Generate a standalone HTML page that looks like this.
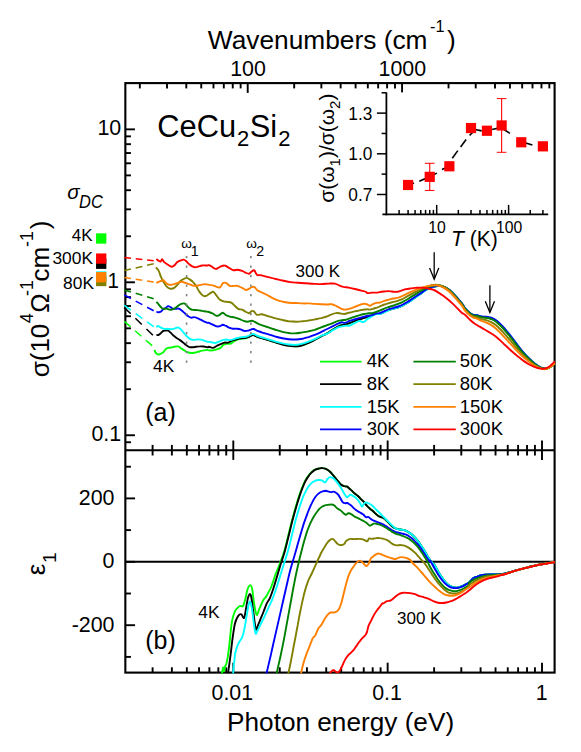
<!DOCTYPE html>
<html><head><meta charset="utf-8"><title>CeCu2Si2 optical conductivity</title>
<style>html,body{margin:0;padding:0;background:#fff;}body{width:581px;height:752px;position:relative;overflow:hidden;font-family:"Liberation Sans",sans-serif;}</style></head>
<body>
<svg width="581" height="752" viewBox="0 0 581 752" style="display:block;position:absolute;left:0;top:0" font-family="'Liberation Sans', sans-serif" fill="#000">
<defs><clipPath id="ca"><rect x="124.3" y="83.1" width="431.15" height="367.1"/></clipPath><clipPath id="cb"><rect x="124.3" y="450.2" width="431.15" height="223.40000000000003"/></clipPath></defs>
<rect x="0" y="0" width="581" height="752" fill="#fff"/>
<rect x="125.35" y="83.1" width="429.25" height="589.5" fill="none" stroke="#000" stroke-width="2.1"/>
<line x1="125.35" y1="450.20" x2="554.60" y2="450.20" stroke="#000" stroke-width="2.1" />
<line x1="152.59" y1="444.90" x2="152.59" y2="455.50" stroke="#000" stroke-width="1.9" />
<line x1="171.88" y1="444.90" x2="171.88" y2="455.50" stroke="#000" stroke-width="1.9" />
<line x1="186.84" y1="444.90" x2="186.84" y2="455.50" stroke="#000" stroke-width="1.9" />
<line x1="199.06" y1="444.90" x2="199.06" y2="455.50" stroke="#000" stroke-width="1.9" />
<line x1="209.39" y1="444.90" x2="209.39" y2="455.50" stroke="#000" stroke-width="1.9" />
<line x1="218.34" y1="444.90" x2="218.34" y2="455.50" stroke="#000" stroke-width="1.9" />
<line x1="226.24" y1="444.90" x2="226.24" y2="455.50" stroke="#000" stroke-width="1.9" />
<line x1="233.30" y1="440.50" x2="233.30" y2="459.90" stroke="#000" stroke-width="1.9" />
<line x1="279.76" y1="444.90" x2="279.76" y2="455.50" stroke="#000" stroke-width="1.9" />
<line x1="306.94" y1="444.90" x2="306.94" y2="455.50" stroke="#000" stroke-width="1.9" />
<line x1="326.23" y1="444.90" x2="326.23" y2="455.50" stroke="#000" stroke-width="1.9" />
<line x1="341.19" y1="444.90" x2="341.19" y2="455.50" stroke="#000" stroke-width="1.9" />
<line x1="353.41" y1="444.90" x2="353.41" y2="455.50" stroke="#000" stroke-width="1.9" />
<line x1="363.74" y1="444.90" x2="363.74" y2="455.50" stroke="#000" stroke-width="1.9" />
<line x1="372.69" y1="444.90" x2="372.69" y2="455.50" stroke="#000" stroke-width="1.9" />
<line x1="380.59" y1="444.90" x2="380.59" y2="455.50" stroke="#000" stroke-width="1.9" />
<line x1="387.65" y1="440.50" x2="387.65" y2="459.90" stroke="#000" stroke-width="1.9" />
<line x1="434.11" y1="444.90" x2="434.11" y2="455.50" stroke="#000" stroke-width="1.9" />
<line x1="461.29" y1="444.90" x2="461.29" y2="455.50" stroke="#000" stroke-width="1.9" />
<line x1="480.58" y1="444.90" x2="480.58" y2="455.50" stroke="#000" stroke-width="1.9" />
<line x1="495.54" y1="444.90" x2="495.54" y2="455.50" stroke="#000" stroke-width="1.9" />
<line x1="507.76" y1="444.90" x2="507.76" y2="455.50" stroke="#000" stroke-width="1.9" />
<line x1="518.09" y1="444.90" x2="518.09" y2="455.50" stroke="#000" stroke-width="1.9" />
<line x1="527.04" y1="444.90" x2="527.04" y2="455.50" stroke="#000" stroke-width="1.9" />
<line x1="534.94" y1="444.90" x2="534.94" y2="455.50" stroke="#000" stroke-width="1.9" />
<line x1="542.00" y1="440.50" x2="542.00" y2="459.90" stroke="#000" stroke-width="1.9" />
<line x1="139.83" y1="83.10" x2="139.83" y2="88.40" stroke="#000" stroke-width="1.9" />
<line x1="167.01" y1="83.10" x2="167.01" y2="88.40" stroke="#000" stroke-width="1.9" />
<line x1="186.29" y1="83.10" x2="186.29" y2="88.40" stroke="#000" stroke-width="1.9" />
<line x1="201.25" y1="83.10" x2="201.25" y2="88.40" stroke="#000" stroke-width="1.9" />
<line x1="213.47" y1="83.10" x2="213.47" y2="88.40" stroke="#000" stroke-width="1.9" />
<line x1="223.80" y1="83.10" x2="223.80" y2="88.40" stroke="#000" stroke-width="1.9" />
<line x1="232.75" y1="83.10" x2="232.75" y2="88.40" stroke="#000" stroke-width="1.9" />
<line x1="240.65" y1="83.10" x2="240.65" y2="88.40" stroke="#000" stroke-width="1.9" />
<line x1="247.71" y1="83.10" x2="247.71" y2="92.90" stroke="#000" stroke-width="1.9" />
<line x1="294.18" y1="83.10" x2="294.18" y2="88.40" stroke="#000" stroke-width="1.9" />
<line x1="321.36" y1="83.10" x2="321.36" y2="88.40" stroke="#000" stroke-width="1.9" />
<line x1="340.64" y1="83.10" x2="340.64" y2="88.40" stroke="#000" stroke-width="1.9" />
<line x1="355.60" y1="83.10" x2="355.60" y2="88.40" stroke="#000" stroke-width="1.9" />
<line x1="367.82" y1="83.10" x2="367.82" y2="88.40" stroke="#000" stroke-width="1.9" />
<line x1="378.15" y1="83.10" x2="378.15" y2="88.40" stroke="#000" stroke-width="1.9" />
<line x1="387.10" y1="83.10" x2="387.10" y2="88.40" stroke="#000" stroke-width="1.9" />
<line x1="395.00" y1="83.10" x2="395.00" y2="88.40" stroke="#000" stroke-width="1.9" />
<line x1="402.06" y1="83.10" x2="402.06" y2="92.90" stroke="#000" stroke-width="1.9" />
<line x1="448.53" y1="83.10" x2="448.53" y2="88.40" stroke="#000" stroke-width="1.9" />
<line x1="475.71" y1="83.10" x2="475.71" y2="88.40" stroke="#000" stroke-width="1.9" />
<line x1="494.99" y1="83.10" x2="494.99" y2="88.40" stroke="#000" stroke-width="1.9" />
<line x1="509.95" y1="83.10" x2="509.95" y2="88.40" stroke="#000" stroke-width="1.9" />
<line x1="522.17" y1="83.10" x2="522.17" y2="88.40" stroke="#000" stroke-width="1.9" />
<line x1="532.50" y1="83.10" x2="532.50" y2="88.40" stroke="#000" stroke-width="1.9" />
<line x1="541.45" y1="83.10" x2="541.45" y2="88.40" stroke="#000" stroke-width="1.9" />
<line x1="549.35" y1="83.10" x2="549.35" y2="88.40" stroke="#000" stroke-width="1.9" />
<line x1="125.35" y1="442.25" x2="130.95" y2="442.25" stroke="#000" stroke-width="1.9" />
<line x1="125.35" y1="435.25" x2="134.95" y2="435.25" stroke="#000" stroke-width="1.9" />
<line x1="125.35" y1="389.21" x2="130.95" y2="389.21" stroke="#000" stroke-width="1.9" />
<line x1="125.35" y1="362.27" x2="130.95" y2="362.27" stroke="#000" stroke-width="1.9" />
<line x1="125.35" y1="343.16" x2="130.95" y2="343.16" stroke="#000" stroke-width="1.9" />
<line x1="125.35" y1="328.34" x2="130.95" y2="328.34" stroke="#000" stroke-width="1.9" />
<line x1="125.35" y1="316.23" x2="130.95" y2="316.23" stroke="#000" stroke-width="1.9" />
<line x1="125.35" y1="305.99" x2="130.95" y2="305.99" stroke="#000" stroke-width="1.9" />
<line x1="125.35" y1="297.12" x2="130.95" y2="297.12" stroke="#000" stroke-width="1.9" />
<line x1="125.35" y1="289.30" x2="130.95" y2="289.30" stroke="#000" stroke-width="1.9" />
<line x1="125.35" y1="282.30" x2="134.95" y2="282.30" stroke="#000" stroke-width="1.9" />
<line x1="125.35" y1="236.26" x2="130.95" y2="236.26" stroke="#000" stroke-width="1.9" />
<line x1="125.35" y1="209.32" x2="130.95" y2="209.32" stroke="#000" stroke-width="1.9" />
<line x1="125.35" y1="190.21" x2="130.95" y2="190.21" stroke="#000" stroke-width="1.9" />
<line x1="125.35" y1="175.39" x2="130.95" y2="175.39" stroke="#000" stroke-width="1.9" />
<line x1="125.35" y1="163.28" x2="130.95" y2="163.28" stroke="#000" stroke-width="1.9" />
<line x1="125.35" y1="153.04" x2="130.95" y2="153.04" stroke="#000" stroke-width="1.9" />
<line x1="125.35" y1="144.17" x2="130.95" y2="144.17" stroke="#000" stroke-width="1.9" />
<line x1="125.35" y1="136.35" x2="130.95" y2="136.35" stroke="#000" stroke-width="1.9" />
<line x1="125.35" y1="129.35" x2="134.95" y2="129.35" stroke="#000" stroke-width="1.9" />
<line x1="125.35" y1="656.90" x2="130.95" y2="656.90" stroke="#000" stroke-width="1.9" />
<line x1="125.35" y1="625.20" x2="135.05" y2="625.20" stroke="#000" stroke-width="1.9" />
<line x1="125.35" y1="593.50" x2="130.95" y2="593.50" stroke="#000" stroke-width="1.9" />
<line x1="125.35" y1="561.80" x2="135.05" y2="561.80" stroke="#000" stroke-width="1.9" />
<line x1="125.35" y1="530.10" x2="130.95" y2="530.10" stroke="#000" stroke-width="1.9" />
<line x1="125.35" y1="498.40" x2="135.05" y2="498.40" stroke="#000" stroke-width="1.9" />
<line x1="125.35" y1="466.70" x2="130.95" y2="466.70" stroke="#000" stroke-width="1.9" />
<line x1="125.35" y1="561.80" x2="554.60" y2="561.80" stroke="#000" stroke-width="2.0" />
<line x1="152.59" y1="672.60" x2="152.59" y2="667.30" stroke="#000" stroke-width="1.9" />
<line x1="171.88" y1="672.60" x2="171.88" y2="667.30" stroke="#000" stroke-width="1.9" />
<line x1="186.84" y1="672.60" x2="186.84" y2="667.30" stroke="#000" stroke-width="1.9" />
<line x1="199.06" y1="672.60" x2="199.06" y2="667.30" stroke="#000" stroke-width="1.9" />
<line x1="209.39" y1="672.60" x2="209.39" y2="667.30" stroke="#000" stroke-width="1.9" />
<line x1="218.34" y1="672.60" x2="218.34" y2="667.30" stroke="#000" stroke-width="1.9" />
<line x1="226.24" y1="672.60" x2="226.24" y2="667.30" stroke="#000" stroke-width="1.9" />
<line x1="233.30" y1="672.60" x2="233.30" y2="662.70" stroke="#000" stroke-width="1.9" />
<line x1="279.76" y1="672.60" x2="279.76" y2="667.30" stroke="#000" stroke-width="1.9" />
<line x1="306.94" y1="672.60" x2="306.94" y2="667.30" stroke="#000" stroke-width="1.9" />
<line x1="326.23" y1="672.60" x2="326.23" y2="667.30" stroke="#000" stroke-width="1.9" />
<line x1="341.19" y1="672.60" x2="341.19" y2="667.30" stroke="#000" stroke-width="1.9" />
<line x1="353.41" y1="672.60" x2="353.41" y2="667.30" stroke="#000" stroke-width="1.9" />
<line x1="363.74" y1="672.60" x2="363.74" y2="667.30" stroke="#000" stroke-width="1.9" />
<line x1="372.69" y1="672.60" x2="372.69" y2="667.30" stroke="#000" stroke-width="1.9" />
<line x1="380.59" y1="672.60" x2="380.59" y2="667.30" stroke="#000" stroke-width="1.9" />
<line x1="387.65" y1="672.60" x2="387.65" y2="662.70" stroke="#000" stroke-width="1.9" />
<line x1="434.11" y1="672.60" x2="434.11" y2="667.30" stroke="#000" stroke-width="1.9" />
<line x1="461.29" y1="672.60" x2="461.29" y2="667.30" stroke="#000" stroke-width="1.9" />
<line x1="480.58" y1="672.60" x2="480.58" y2="667.30" stroke="#000" stroke-width="1.9" />
<line x1="495.54" y1="672.60" x2="495.54" y2="667.30" stroke="#000" stroke-width="1.9" />
<line x1="507.76" y1="672.60" x2="507.76" y2="667.30" stroke="#000" stroke-width="1.9" />
<line x1="518.09" y1="672.60" x2="518.09" y2="667.30" stroke="#000" stroke-width="1.9" />
<line x1="527.04" y1="672.60" x2="527.04" y2="667.30" stroke="#000" stroke-width="1.9" />
<line x1="534.94" y1="672.60" x2="534.94" y2="667.30" stroke="#000" stroke-width="1.9" />
<line x1="542.00" y1="672.60" x2="542.00" y2="662.70" stroke="#000" stroke-width="1.9" />
<path d="M154.4 349.9 C154.6 350.4 155.2 352.2 155.9 353.0 C156.7 353.8 157.9 354.5 158.7 354.6 C159.6 354.6 160.3 353.9 161.1 353.5 C161.8 353.1 162.6 353.0 163.4 352.2 C164.1 351.5 164.9 349.9 165.7 349.1 C166.5 348.4 167.1 348.2 168.0 347.9 C168.9 347.6 170.1 347.8 171.1 347.6 C172.2 347.4 173.1 347.0 174.2 346.8 C175.4 346.6 176.9 346.1 178.1 346.4 C179.3 346.6 180.2 347.7 181.2 348.4 C182.2 349.0 183.3 349.7 184.3 350.4 C185.3 351.0 186.2 351.8 187.4 352.2 C188.5 352.7 190.0 353.0 191.3 353.0 C192.6 353.1 193.8 352.8 195.1 352.6 C196.4 352.3 197.6 351.8 199.0 351.5 C200.4 351.1 202.2 350.6 203.7 350.4 C205.1 350.1 206.7 349.9 207.5 349.9 C208.4 349.9 208.0 350.3 208.9 350.4 C209.7 350.5 211.5 350.5 212.8 350.4 C214.0 350.2 215.3 349.9 216.6 349.4 C217.9 349.0 219.3 348.7 220.5 347.9 C221.7 347.1 222.6 345.5 223.6 344.8 C224.6 344.1 225.5 343.9 226.7 343.7 C227.9 343.5 229.4 344.1 230.6 343.7 C231.7 343.3 232.5 342.1 233.7 341.4 C234.8 340.7 236.1 340.0 237.5 339.5 C238.9 339.1 240.8 338.9 242.2 338.6 C243.6 338.4 244.9 338.3 246.1 338.0 C247.2 337.7 248.1 337.3 249.2 336.8 C250.2 336.2 251.3 335.1 252.2 334.9 C253.2 334.7 253.7 335.0 254.6 335.4 C255.5 335.7 256.4 336.4 257.7 336.9 C259.0 337.4 260.5 337.6 262.3 338.1 C264.1 338.7 266.4 339.4 268.5 340.0 C270.6 340.6 272.4 341.3 274.7 342.0 C277.0 342.7 280.1 343.7 282.4 344.3 C284.8 344.9 286.4 345.3 288.6 345.6 C290.9 345.9 293.9 346.3 296.2 346.2 C298.5 346.1 300.3 345.7 302.4 345.1 C304.5 344.5 306.5 343.7 308.6 342.8 C310.7 341.9 312.7 340.8 314.8 339.7 C316.8 338.6 318.9 337.4 321.0 336.3 C323.0 335.2 325.2 334.3 327.2 333.2 C329.1 332.1 330.8 330.7 332.6 329.6 C334.4 328.5 336.5 327.3 338.0 326.5 C339.6 325.7 340.6 325.4 341.9 325.0 C343.2 324.6 344.5 324.5 345.8 324.2 C347.1 323.9 348.1 323.5 349.6 323.0 C351.2 322.4 353.4 321.4 355.1 320.8 C356.7 320.2 358.2 319.8 359.7 319.2 C361.3 318.7 362.9 318.2 364.4 317.7 C365.8 317.2 366.9 316.8 368.2 316.4 C369.5 316.1 370.8 315.8 372.1 315.4 C373.4 314.9 374.7 313.9 376.0 313.7 C377.2 313.4 378.3 314.1 379.6 313.8 C381.0 313.5 382.7 312.5 384.3 311.8 C385.8 311.1 387.4 310.4 388.9 309.8 C390.5 309.2 392.0 308.8 393.6 308.4 C395.1 308.0 396.7 307.7 398.2 307.2 C399.8 306.6 401.3 305.9 402.9 305.1 C404.4 304.4 406.0 303.5 407.5 302.5 C409.1 301.6 410.6 300.5 412.2 299.4 C413.7 298.4 415.3 297.2 416.8 296.2 C418.4 295.1 419.9 294.0 421.5 292.9 C423.0 291.8 424.7 290.5 426.1 289.7 C427.5 288.8 428.7 288.3 430.0 287.8 C431.3 287.3 432.7 287.0 433.9 286.7 C435.0 286.4 435.8 286.2 437.0 286.1 C438.1 286.0 439.5 285.9 440.8 286.1 C442.1 286.3 443.3 286.7 444.7 287.3 C446.1 288.0 447.8 288.9 449.4 290.1 C450.9 291.3 452.4 292.9 454.0 294.5 C455.6 296.1 457.2 298.1 458.6 299.7 C460.1 301.4 461.5 302.9 462.5 304.4 C463.6 305.8 463.8 307.0 465.0 308.5 C466.2 310.0 468.5 312.1 469.9 313.2 C471.3 314.3 472.0 314.7 473.2 315.1 C474.4 315.4 475.9 315.3 477.3 315.6 C478.6 315.9 479.9 316.6 481.4 316.9 C482.9 317.1 484.6 317.0 486.3 317.3 C487.9 317.6 489.5 317.8 491.2 318.5 C492.8 319.1 494.4 319.8 496.1 321.0 C497.7 322.2 499.3 323.8 501.0 325.5 C502.6 327.1 504.2 329.0 505.9 330.9 C507.5 332.8 509.1 334.8 510.8 336.9 C512.4 338.9 514.1 341.1 515.7 343.3 C517.3 345.4 519.0 347.7 520.6 349.6 C522.2 351.6 523.9 353.5 525.5 355.2 C527.1 357.0 528.8 358.6 530.4 360.1 C532.0 361.6 533.7 363.0 535.3 364.2 C536.9 365.4 538.7 366.6 540.2 367.4 C541.7 368.1 543.1 368.6 544.3 368.8 C545.5 368.9 546.5 368.6 547.6 368.3 C548.7 367.9 549.6 367.3 550.8 366.5 C552.1 365.6 554.4 363.7 555.1 363.2" fill="none" stroke="#00ff00" stroke-width="1.9" stroke-linejoin="round" stroke-linecap="butt" clip-path="url(#ca)"/>
<path d="M156.4 335.2 C156.8 335.1 158.0 335.3 158.7 334.9 C159.5 334.5 160.3 333.5 161.1 332.9 C161.8 332.2 162.6 331.2 163.4 330.9 C164.1 330.5 164.9 330.6 165.7 330.6 C166.5 330.5 167.2 330.2 168.0 330.6 C168.8 330.9 169.4 331.6 170.3 332.4 C171.2 333.2 172.4 334.6 173.4 335.5 C174.5 336.4 175.5 337.3 176.5 338.0 C177.6 338.7 178.6 339.2 179.6 339.9 C180.7 340.5 181.7 341.3 182.7 342.2 C183.8 343.0 184.8 344.0 185.8 344.8 C186.9 345.6 187.9 346.4 188.9 346.8 C190.0 347.2 190.9 347.3 192.0 347.3 C193.2 347.3 194.6 347.0 195.9 346.8 C197.2 346.7 198.5 346.4 199.8 346.4 C201.1 346.3 202.4 346.4 203.7 346.5 C204.9 346.7 206.7 347.2 207.5 347.3 C208.4 347.3 208.0 346.7 208.9 346.8 C209.7 346.9 211.5 348.0 212.8 347.9 C214.0 347.8 215.3 346.7 216.6 346.0 C217.9 345.4 219.2 344.7 220.5 344.2 C221.8 343.6 223.1 342.9 224.4 342.6 C225.7 342.4 226.9 343.0 228.2 342.6 C229.5 342.3 230.8 341.1 232.1 340.6 C233.4 340.1 234.6 339.9 236.0 339.5 C237.4 339.2 239.1 338.6 240.6 338.3 C242.2 338.0 243.9 338.2 245.3 338.0 C246.7 337.7 248.0 337.2 249.2 336.8 C250.3 336.3 251.3 335.4 252.2 335.2 C253.2 335.0 253.7 335.2 254.6 335.5 C255.5 335.8 256.4 336.6 257.7 337.1 C259.0 337.5 260.5 337.8 262.3 338.3 C264.1 338.8 266.4 339.5 268.5 340.1 C270.6 340.8 272.4 341.4 274.7 342.2 C277.0 342.9 280.1 343.9 282.4 344.5 C284.8 345.1 286.4 345.4 288.6 345.7 C290.9 346.0 293.9 346.4 296.2 346.4 C298.5 346.3 300.3 345.8 302.4 345.3 C304.5 344.7 306.5 343.8 308.6 342.9 C310.7 342.0 312.7 340.9 314.8 339.9 C316.8 338.8 318.9 337.5 321.0 336.4 C323.0 335.4 325.2 334.4 327.2 333.3 C329.1 332.2 330.8 330.9 332.6 329.8 C334.4 328.7 336.5 327.5 338.0 326.7 C339.6 325.9 340.6 325.5 341.9 325.1 C343.2 324.7 344.5 324.7 345.8 324.4 C347.1 324.0 348.1 323.7 349.6 323.1 C351.2 322.6 353.4 321.6 355.1 320.9 C356.7 320.3 358.2 319.9 359.7 319.4 C361.3 318.9 362.9 318.3 364.4 317.9 C365.8 317.4 366.9 317.0 368.2 316.6 C369.5 316.2 370.8 316.0 372.1 315.5 C373.4 315.1 374.7 314.1 376.0 313.8 C377.2 313.6 378.3 314.3 379.6 314.0 C381.0 313.7 382.7 312.6 384.3 312.0 C385.8 311.3 387.4 310.5 388.9 309.9 C390.5 309.4 392.0 309.0 393.6 308.6 C395.1 308.1 396.7 307.9 398.2 307.3 C399.8 306.8 401.3 306.1 402.9 305.3 C404.4 304.5 406.0 303.6 407.5 302.7 C409.1 301.7 410.6 300.6 412.2 299.6 C413.7 298.5 415.3 297.4 416.8 296.3 C418.4 295.2 419.9 294.1 421.5 293.1 C423.0 292.0 424.7 290.7 426.1 289.8 C427.5 288.9 428.7 288.3 430.0 287.8 C431.3 287.3 432.7 287.0 433.9 286.7 C435.0 286.4 435.8 286.2 437.0 286.1 C438.1 286.0 439.5 285.9 440.8 286.1 C442.1 286.3 443.3 286.7 444.7 287.3 C446.1 288.0 447.8 288.9 449.4 290.1 C450.9 291.3 452.4 292.9 454.0 294.5 C455.6 296.1 457.2 298.1 458.6 299.7 C460.1 301.4 461.5 302.9 462.5 304.4 C463.6 305.8 463.8 307.0 465.0 308.5 C466.2 310.0 468.5 312.1 469.9 313.2 C471.3 314.3 472.0 314.7 473.2 315.1 C474.4 315.4 475.9 315.3 477.3 315.6 C478.6 315.9 479.9 316.6 481.4 316.9 C482.9 317.1 484.6 317.0 486.3 317.3 C487.9 317.6 489.5 317.8 491.2 318.5 C492.8 319.1 494.4 319.8 496.1 321.0 C497.7 322.2 499.3 323.8 501.0 325.5 C502.6 327.1 504.2 329.0 505.9 330.9 C507.5 332.8 509.1 334.8 510.8 336.9 C512.4 338.9 514.1 341.1 515.7 343.3 C517.3 345.4 519.0 347.7 520.6 349.6 C522.2 351.6 523.9 353.5 525.5 355.2 C527.1 357.0 528.8 358.6 530.4 360.1 C532.0 361.6 533.7 363.0 535.3 364.2 C536.9 365.4 538.7 366.6 540.2 367.4 C541.7 368.1 543.1 368.6 544.3 368.8 C545.5 368.9 546.5 368.6 547.6 368.3 C548.7 367.9 549.6 367.3 550.8 366.5 C552.1 365.6 554.4 363.7 555.1 363.2" fill="none" stroke="#000000" stroke-width="1.9" stroke-linejoin="round" stroke-linecap="butt" clip-path="url(#ca)"/>
<path d="M156.4 327.1 C156.7 326.9 157.4 326.0 157.9 325.9 C158.5 325.8 158.9 326.3 159.5 326.7 C160.1 327.1 160.9 327.8 161.8 328.2 C162.7 328.6 163.9 328.9 164.9 329.0 C166.0 329.1 167.0 328.6 168.0 328.7 C169.1 328.7 170.1 329.3 171.1 329.3 C172.2 329.3 173.2 329.0 174.2 328.7 C175.3 328.4 176.4 327.5 177.3 327.4 C178.2 327.4 178.9 327.7 179.6 328.2 C180.4 328.7 181.1 329.5 182.0 330.6 C182.9 331.6 184.0 333.3 185.1 334.4 C186.1 335.6 187.1 336.7 188.2 337.5 C189.2 338.4 190.2 339.2 191.3 339.5 C192.3 339.9 193.2 339.9 194.3 339.9 C195.5 339.8 196.9 339.4 198.2 339.4 C199.5 339.4 200.8 339.5 202.1 339.9 C203.4 340.2 204.8 341.1 206.0 341.4 C207.1 341.7 207.7 341.7 208.9 341.9 C210.0 342.1 211.6 342.4 212.8 342.6 C213.9 342.8 214.7 343.1 215.8 342.9 C217.0 342.7 218.4 341.9 219.7 341.4 C221.0 340.9 222.4 340.2 223.6 339.9 C224.8 339.5 225.7 339.5 226.7 339.5 C227.7 339.6 228.6 340.2 229.8 340.1 C230.9 340.1 232.4 339.4 233.7 339.1 C235.0 338.7 236.1 338.3 237.5 338.0 C238.9 337.7 240.8 337.3 242.2 337.1 C243.6 336.9 244.9 337.0 246.1 336.8 C247.2 336.5 248.1 336.0 249.2 335.5 C250.2 335.0 251.3 334.1 252.2 334.0 C253.2 333.8 253.7 334.1 254.6 334.4 C255.5 334.8 256.4 335.5 257.7 336.0 C259.0 336.5 260.5 337.0 262.3 337.5 C264.1 338.1 266.4 338.7 268.5 339.4 C270.6 340.0 272.4 340.7 274.7 341.4 C277.0 342.1 280.1 342.9 282.4 343.4 C284.8 343.9 286.4 344.3 288.6 344.5 C290.9 344.7 293.9 344.9 296.2 344.8 C298.5 344.7 300.3 344.2 302.4 343.7 C304.5 343.2 306.5 342.5 308.6 341.7 C310.7 340.9 312.7 340.0 314.8 339.1 C316.8 338.1 318.9 336.9 321.0 336.0 C323.0 335.1 325.2 334.6 327.2 333.6 C329.1 332.7 330.8 331.3 332.6 330.2 C334.4 329.2 336.3 328.1 338.0 327.4 C339.7 326.8 341.4 326.5 342.7 326.2 C344.0 325.9 344.6 325.7 345.8 325.6 C346.9 325.5 348.1 326.1 349.6 325.6 C351.2 325.1 353.4 323.6 355.1 322.8 C356.7 322.0 358.5 321.1 359.7 320.9 C360.9 320.8 361.3 321.9 362.0 322.0 C362.8 322.1 363.4 322.1 364.4 321.6 C365.3 321.1 366.2 319.8 367.4 318.9 C368.7 318.1 370.7 317.1 372.1 316.3 C373.5 315.5 374.7 314.3 376.0 314.0 C377.2 313.6 378.3 314.4 379.6 314.1 C381.0 313.8 382.7 312.8 384.3 312.1 C385.8 311.4 387.4 310.7 388.9 310.1 C390.5 309.5 392.0 309.1 393.6 308.7 C395.1 308.3 396.7 308.0 398.2 307.5 C399.8 306.9 401.3 306.2 402.9 305.5 C404.4 304.7 406.0 303.8 407.5 302.8 C409.1 301.9 410.6 300.8 412.2 299.7 C413.7 298.7 415.3 297.6 416.8 296.5 C418.4 295.4 419.9 294.3 421.5 293.2 C423.0 292.1 424.7 290.8 426.1 290.0 C427.5 289.1 428.7 288.5 430.0 287.9 C431.3 287.4 432.7 287.0 433.9 286.7 C435.0 286.4 435.8 286.2 437.0 286.1 C438.1 286.0 439.5 285.9 440.8 286.1 C442.1 286.3 443.3 286.7 444.7 287.3 C446.1 288.0 447.8 288.9 449.4 290.1 C450.9 291.3 452.4 292.9 454.0 294.5 C455.6 296.1 457.2 298.1 458.6 299.7 C460.1 301.4 461.5 302.9 462.5 304.4 C463.6 305.8 463.8 306.9 465.0 308.4 C466.2 309.8 468.5 312.0 469.9 313.1 C471.3 314.2 472.0 314.5 473.2 314.9 C474.4 315.3 475.9 315.2 477.3 315.4 C478.6 315.7 479.9 316.4 481.4 316.6 C482.9 316.9 484.6 316.8 486.3 317.0 C487.9 317.3 489.5 317.5 491.2 318.1 C492.8 318.7 494.4 319.4 496.1 320.6 C497.7 321.8 499.3 323.4 501.0 325.0 C502.6 326.7 504.2 328.5 505.9 330.4 C507.5 332.3 509.1 334.4 510.8 336.4 C512.4 338.5 514.1 340.8 515.7 342.9 C517.3 345.1 519.0 347.4 520.6 349.4 C522.2 351.4 523.9 353.3 525.5 355.0 C527.1 356.8 528.8 358.4 530.4 359.9 C532.0 361.4 533.7 362.9 535.3 364.1 C536.9 365.3 538.7 366.5 540.2 367.3 C541.7 368.1 543.1 368.6 544.3 368.8 C545.5 368.9 546.5 368.6 547.6 368.2 C548.7 367.9 549.6 367.3 550.8 366.4 C552.1 365.6 554.4 363.7 555.1 363.2" fill="none" stroke="#00ffff" stroke-width="1.9" stroke-linejoin="round" stroke-linecap="butt" clip-path="url(#ca)"/>
<path d="M156.4 312.0 C156.8 312.0 158.0 312.3 158.7 312.3 C159.5 312.2 160.3 312.2 161.1 311.6 C161.8 311.1 162.6 309.5 163.4 308.9 C164.1 308.3 164.9 308.6 165.7 308.1 C166.5 307.6 167.2 306.3 168.0 306.1 C168.8 305.9 169.6 306.6 170.3 307.0 C171.1 307.4 171.8 308.2 172.7 308.6 C173.6 308.9 174.7 308.9 175.8 308.9 C176.8 308.9 177.8 308.2 178.9 308.6 C179.9 308.9 180.9 309.9 182.0 310.7 C183.0 311.5 184.0 312.6 185.1 313.5 C186.1 314.4 187.1 315.6 188.2 316.3 C189.2 317.0 190.2 317.6 191.3 317.7 C192.3 317.8 193.3 317.0 194.3 317.1 C195.4 317.1 196.4 317.7 197.4 318.2 C198.5 318.6 199.4 319.1 200.6 319.7 C201.7 320.3 203.3 321.1 204.4 321.6 C205.6 322.1 206.8 322.6 207.5 322.8 C208.3 323.0 208.0 322.5 208.9 322.8 C209.7 323.1 211.5 324.1 212.8 324.7 C214.0 325.3 215.5 326.1 216.6 326.4 C217.8 326.6 218.7 326.5 219.7 326.2 C220.8 326.0 221.8 324.9 222.8 324.8 C223.8 324.8 224.7 325.4 225.9 325.9 C227.1 326.4 228.6 327.5 229.8 327.9 C230.9 328.4 231.7 328.6 232.9 328.7 C234.0 328.8 235.5 328.6 236.8 328.7 C238.1 328.8 239.3 328.9 240.6 329.3 C241.9 329.7 243.2 330.7 244.5 330.9 C245.8 331.1 247.2 330.8 248.4 330.6 C249.5 330.3 250.6 329.6 251.5 329.3 C252.4 329.1 252.9 328.8 253.8 329.0 C254.7 329.2 255.5 330.0 256.9 330.6 C258.3 331.1 260.4 331.9 262.3 332.6 C264.2 333.2 266.4 333.8 268.5 334.4 C270.6 335.1 272.4 335.8 274.7 336.4 C277.0 337.1 280.1 337.8 282.4 338.3 C284.8 338.8 286.4 339.0 288.6 339.2 C290.9 339.4 293.9 339.6 296.2 339.5 C298.5 339.5 300.3 339.2 302.4 338.8 C304.5 338.3 306.5 337.7 308.6 337.1 C310.7 336.4 312.7 335.7 314.8 334.9 C316.8 334.1 318.9 333.1 321.0 332.1 C323.0 331.1 325.1 330.0 327.2 329.0 C329.2 328.0 331.6 326.8 333.4 325.9 C335.2 325.0 336.6 324.2 338.0 323.6 C339.4 323.0 340.7 322.5 341.9 322.3 C343.1 322.2 343.7 323.0 345.0 322.8 C346.3 322.6 348.0 321.5 349.6 320.9 C351.3 320.4 353.4 319.8 355.1 319.2 C356.7 318.7 358.2 318.3 359.7 317.9 C361.3 317.4 362.9 316.9 364.4 316.6 C365.8 316.3 366.9 316.1 368.2 315.8 C369.5 315.6 370.8 315.4 372.1 315.1 C373.4 314.7 374.7 313.8 376.0 313.5 C377.2 313.2 378.3 313.6 379.6 313.2 C381.0 312.8 382.7 311.9 384.3 311.2 C385.8 310.5 387.4 309.7 388.9 309.2 C390.5 308.6 392.0 308.2 393.6 307.8 C395.1 307.3 396.7 307.1 398.2 306.5 C399.8 306.0 401.3 305.3 402.9 304.5 C404.4 303.8 406.0 302.8 407.5 301.9 C409.1 300.9 410.6 299.8 412.2 298.8 C413.7 297.8 415.3 296.7 416.8 295.7 C418.4 294.7 419.9 293.6 421.5 292.6 C423.0 291.6 424.7 290.3 426.1 289.5 C427.5 288.7 428.7 288.1 430.0 287.6 C431.3 287.1 432.7 286.8 433.9 286.6 C435.0 286.3 435.8 286.0 437.0 285.9 C438.1 285.8 439.5 285.7 440.8 285.9 C442.1 286.1 443.3 286.5 444.7 287.2 C446.1 287.9 447.8 288.8 449.4 290.0 C450.9 291.2 452.4 292.7 454.0 294.3 C455.6 295.9 457.2 297.9 458.6 299.6 C460.1 301.2 461.5 302.8 462.5 304.2 C463.6 305.7 463.8 306.8 465.0 308.2 C466.2 309.7 468.5 311.9 469.9 313.0 C471.3 314.1 472.0 314.4 473.2 314.8 C474.4 315.2 475.9 315.0 477.3 315.3 C478.6 315.5 479.9 316.2 481.4 316.4 C482.9 316.7 484.6 316.5 486.3 316.7 C487.9 317.0 489.5 317.1 491.2 317.7 C492.8 318.3 494.4 319.0 496.1 320.2 C497.7 321.3 499.3 323.0 501.0 324.6 C502.6 326.2 504.2 328.1 505.9 330.0 C507.5 331.9 509.1 333.9 510.8 336.0 C512.4 338.1 514.1 340.4 515.7 342.6 C517.3 344.8 519.0 347.1 520.6 349.1 C522.2 351.2 523.9 353.1 525.5 354.8 C527.1 356.6 528.8 358.2 530.4 359.7 C532.0 361.3 533.7 362.7 535.3 364.0 C536.9 365.2 538.7 366.5 540.2 367.3 C541.7 368.1 543.1 368.6 544.3 368.7 C545.5 368.9 546.5 368.6 547.6 368.2 C548.7 367.9 549.6 367.3 550.8 366.4 C552.1 365.6 554.4 363.7 555.1 363.2" fill="none" stroke="#0000ff" stroke-width="1.9" stroke-linejoin="round" stroke-linecap="butt" clip-path="url(#ca)"/>
<path d="M156.4 301.9 C156.8 302.3 158.0 303.6 158.7 304.5 C159.5 305.4 160.3 306.6 161.1 307.3 C161.8 308.0 162.5 308.7 163.4 308.9 C164.3 309.1 165.4 308.4 166.5 308.6 C167.5 308.7 168.7 309.5 169.6 309.6 C170.5 309.8 171.0 309.9 171.9 309.6 C172.8 309.4 174.0 308.7 175.0 308.1 C176.0 307.4 177.1 306.5 178.1 305.8 C179.1 305.1 180.2 304.3 181.2 303.9 C182.2 303.5 183.4 303.2 184.3 303.4 C185.2 303.7 185.7 304.6 186.6 305.5 C187.5 306.3 188.7 307.8 189.7 308.6 C190.7 309.3 191.5 309.7 192.8 309.9 C194.1 310.2 195.9 309.9 197.4 310.1 C199.0 310.3 200.5 310.6 202.1 310.9 C203.7 311.1 205.6 311.5 206.8 311.6 C207.9 311.8 207.9 311.6 208.9 312.0 C209.9 312.3 211.5 312.9 212.8 313.5 C214.0 314.2 215.5 315.6 216.6 315.8 C217.8 316.0 218.7 315.3 219.7 314.8 C220.8 314.2 221.8 312.7 222.8 312.7 C223.8 312.8 224.7 314.4 225.9 315.1 C227.1 315.7 228.4 316.2 229.8 316.6 C231.2 317.0 232.9 317.0 234.4 317.4 C236.0 317.8 237.5 318.3 239.1 318.9 C240.6 319.5 242.3 320.5 243.7 320.9 C245.1 321.4 246.3 321.7 247.6 321.7 C248.9 321.7 250.4 320.9 251.5 320.8 C252.5 320.7 252.9 320.9 253.8 321.3 C254.7 321.6 255.5 322.4 256.9 323.1 C258.3 323.8 260.4 324.7 262.3 325.4 C264.2 326.2 266.4 326.8 268.5 327.4 C270.6 328.1 272.4 328.7 274.7 329.5 C277.0 330.2 279.9 331.2 282.4 331.8 C285.0 332.4 287.9 332.9 290.2 333.2 C292.5 333.4 294.2 333.5 296.2 333.3 C298.2 333.2 300.3 332.7 302.4 332.4 C304.5 332.1 306.5 331.8 308.6 331.3 C310.7 330.9 312.7 330.4 314.8 329.8 C316.8 329.1 318.9 328.2 321.0 327.4 C323.0 326.7 325.1 325.9 327.2 325.1 C329.2 324.4 331.6 323.5 333.4 322.8 C335.2 322.1 336.6 321.4 338.0 320.9 C339.4 320.5 340.6 320.4 341.9 320.2 C343.2 320.0 344.3 320.0 345.8 319.7 C347.2 319.4 348.9 318.7 350.4 318.2 C352.0 317.6 353.5 317.1 355.1 316.6 C356.6 316.1 358.2 315.5 359.7 315.1 C361.3 314.6 362.8 314.3 364.4 314.0 C365.9 313.7 367.7 313.3 369.0 313.2 C370.3 313.1 370.9 313.4 372.1 313.2 C373.3 313.0 374.7 312.4 376.0 312.0 C377.2 311.5 378.3 311.3 379.6 310.7 C381.0 310.2 382.7 309.2 384.3 308.6 C385.8 307.9 387.4 307.5 388.9 307.0 C390.5 306.5 392.0 306.0 393.6 305.5 C395.1 304.9 396.7 304.5 398.2 303.9 C399.8 303.3 401.3 302.7 402.9 301.9 C404.4 301.1 406.0 300.2 407.5 299.3 C409.1 298.3 410.6 297.1 412.2 296.2 C413.7 295.2 415.3 294.3 416.8 293.4 C418.4 292.4 419.9 291.4 421.5 290.6 C423.0 289.7 424.6 289.0 426.1 288.3 C427.7 287.6 429.2 286.9 430.8 286.4 C432.3 285.9 433.9 285.5 435.4 285.3 C437.0 285.2 438.5 285.2 440.1 285.5 C441.6 285.8 443.2 286.4 444.7 287.2 C446.3 288.0 447.8 289.0 449.4 290.3 C450.9 291.5 452.4 293.1 454.0 294.8 C455.6 296.4 457.2 298.5 458.6 300.2 C460.1 301.9 461.5 303.4 462.5 304.8 C463.6 306.3 463.8 307.2 465.0 308.7 C466.2 310.1 468.5 312.4 469.9 313.4 C471.3 314.5 472.0 314.9 473.2 315.3 C474.4 315.7 475.9 315.6 477.3 315.9 C478.6 316.2 479.9 316.9 481.4 317.2 C482.9 317.5 484.6 317.5 486.3 317.8 C487.9 318.1 489.5 318.4 491.2 319.0 C492.8 319.7 494.4 320.5 496.1 321.7 C497.7 322.9 499.3 324.6 501.0 326.2 C502.6 327.9 504.2 329.7 505.9 331.6 C507.5 333.5 509.1 335.5 510.8 337.5 C512.4 339.5 514.1 341.7 515.7 343.8 C517.3 345.9 519.0 348.1 520.6 350.1 C522.2 352.0 523.9 353.9 525.5 355.6 C527.1 357.3 528.8 358.9 530.4 360.3 C532.0 361.8 533.7 363.2 535.3 364.4 C536.9 365.6 538.7 366.7 540.2 367.5 C541.7 368.2 543.1 368.7 544.3 368.8 C545.5 369.0 546.5 368.7 547.6 368.3 C548.7 367.9 549.6 367.3 550.8 366.5 C552.1 365.6 554.4 363.7 555.1 363.2" fill="none" stroke="#008000" stroke-width="1.9" stroke-linejoin="round" stroke-linecap="butt" clip-path="url(#ca)"/>
<path d="M155.9 267.4 C156.1 267.6 156.7 268.3 157.2 268.9 C157.6 269.5 158.1 269.5 158.7 270.9 C159.4 272.3 160.3 275.3 161.1 277.1 C161.8 278.9 162.5 280.2 163.4 281.8 C164.3 283.3 165.3 285.2 166.5 286.4 C167.6 287.6 169.0 288.5 170.3 288.7 C171.6 289.0 173.1 288.6 174.2 287.9 C175.4 287.3 176.3 286.0 177.3 284.9 C178.3 283.7 179.4 281.9 180.4 281.0 C181.4 280.0 182.5 279.6 183.5 279.1 C184.5 278.6 185.6 277.8 186.6 277.9 C187.6 277.9 188.7 278.8 189.7 279.4 C190.7 280.1 191.8 280.7 192.8 281.8 C193.8 282.8 194.9 284.1 195.9 285.6 C196.9 287.2 198.0 289.5 199.0 291.1 C200.0 292.6 201.2 294.1 202.1 294.9 C203.0 295.8 203.6 296.0 204.4 296.2 C205.2 296.3 206.0 296.0 206.8 295.7 C207.5 295.4 208.0 294.7 208.9 294.1 C209.7 293.6 211.2 292.5 212.0 292.1 C212.7 291.7 212.9 291.4 213.5 291.8 C214.2 292.2 214.8 293.3 215.8 294.6 C216.9 295.9 218.4 298.4 219.7 299.6 C221.0 300.7 222.3 301.0 223.6 301.4 C224.9 301.8 226.2 301.7 227.5 301.9 C228.8 302.1 230.2 302.1 231.3 302.7 C232.5 303.3 233.3 304.4 234.4 305.5 C235.6 306.5 237.0 308.2 238.3 308.9 C239.6 309.6 240.9 309.1 242.2 309.6 C243.5 310.2 244.9 311.4 246.1 312.0 C247.2 312.6 248.2 313.3 249.2 313.2 C250.1 313.1 250.7 311.5 251.5 311.2 C252.2 310.9 252.9 310.6 253.8 311.2 C254.7 311.8 255.6 314.2 256.9 314.8 C258.2 315.3 259.9 314.1 261.5 314.3 C263.2 314.5 264.8 315.2 267.0 315.8 C269.2 316.5 272.1 317.5 274.7 318.2 C277.3 318.9 280.1 319.5 282.4 320.0 C284.8 320.5 286.4 321.0 288.6 321.3 C290.9 321.5 293.9 321.7 296.2 321.7 C298.5 321.7 300.3 321.5 302.4 321.3 C304.5 321.1 306.5 320.8 308.6 320.5 C310.7 320.2 312.7 319.8 314.8 319.4 C316.8 319.0 318.9 318.7 321.0 318.2 C323.0 317.6 325.4 316.9 327.2 316.3 C329.0 315.7 330.4 314.8 331.8 314.3 C333.2 313.7 334.4 313.2 335.7 313.1 C337.0 312.9 338.1 313.0 339.6 313.2 C341.0 313.4 342.7 314.1 344.2 314.0 C345.8 313.9 347.3 313.1 348.9 312.7 C350.4 312.4 352.0 312.0 353.5 311.6 C355.1 311.3 356.6 311.0 358.2 310.7 C359.7 310.4 361.4 310.0 362.8 309.8 C364.2 309.5 365.5 309.2 366.7 309.2 C367.8 309.1 368.7 309.7 369.8 309.6 C370.8 309.6 371.7 309.2 372.9 308.9 C374.0 308.5 375.6 308.0 376.8 307.6 C377.9 307.2 378.4 307.1 379.6 306.5 C380.9 306.0 382.7 305.1 384.3 304.5 C385.8 304.0 387.4 303.6 388.9 303.1 C390.5 302.7 392.0 302.3 393.6 301.9 C395.1 301.5 396.7 301.2 398.2 300.6 C399.8 300.1 401.3 299.5 402.9 298.8 C404.4 298.1 406.0 297.0 407.5 296.2 C409.1 295.3 410.6 294.5 412.2 293.7 C413.7 292.9 415.3 292.1 416.8 291.4 C418.4 290.6 419.9 289.8 421.5 289.0 C423.0 288.3 424.6 287.5 426.1 286.9 C427.7 286.2 429.2 285.7 430.8 285.3 C432.3 285.0 433.9 284.7 435.4 284.7 C437.0 284.7 438.5 284.9 440.1 285.3 C441.6 285.8 443.2 286.4 444.7 287.3 C446.3 288.2 447.8 289.4 449.4 290.7 C450.9 292.1 452.4 293.7 454.0 295.4 C455.6 297.1 457.2 299.1 458.6 300.8 C460.1 302.5 461.5 304.0 462.5 305.5 C463.6 306.9 463.8 308.2 465.0 309.7 C466.2 311.2 468.5 313.4 469.9 314.6 C471.3 315.7 472.0 316.0 473.2 316.4 C474.4 316.9 475.9 317.0 477.3 317.4 C478.6 317.9 479.9 318.6 481.4 319.1 C482.9 319.5 484.6 319.7 486.3 320.2 C487.9 320.7 489.5 321.3 491.2 322.1 C492.8 323.0 494.4 324.0 496.1 325.3 C497.7 326.6 499.3 328.3 501.0 330.0 C502.6 331.6 504.2 333.5 505.9 335.3 C507.5 337.1 509.1 339.0 510.8 340.9 C512.4 342.9 514.1 344.9 515.7 346.8 C517.3 348.7 519.0 350.6 520.6 352.4 C522.2 354.1 523.9 355.7 525.5 357.3 C527.1 358.8 528.8 360.4 530.4 361.7 C532.0 363.0 533.7 364.3 535.3 365.4 C536.9 366.4 538.7 367.3 540.2 367.9 C541.7 368.6 543.1 369.0 544.3 369.0 C545.5 369.1 546.5 368.8 547.6 368.3 C548.7 367.9 549.6 367.4 550.8 366.5 C552.1 365.7 554.4 363.8 555.1 363.3" fill="none" stroke="#808000" stroke-width="1.9" stroke-linejoin="round" stroke-linecap="butt" clip-path="url(#ca)"/>
<path d="M156.4 283.0 C156.8 282.8 158.0 282.1 158.7 281.8 C159.5 281.4 160.3 281.2 161.1 281.0 C161.8 280.7 162.6 279.9 163.4 280.2 C164.1 280.5 164.9 282.1 165.7 282.8 C166.5 283.5 167.1 284.1 168.0 284.4 C168.9 284.7 170.1 284.9 171.1 284.9 C172.2 284.8 173.1 284.4 174.2 284.1 C175.4 283.7 176.9 283.2 178.1 282.8 C179.3 282.5 180.2 281.8 181.2 281.8 C182.2 281.7 183.1 282.2 184.3 282.5 C185.5 282.9 186.9 283.3 188.2 283.8 C189.4 284.2 190.7 285.0 192.0 285.3 C193.3 285.7 194.7 285.9 195.9 285.9 C197.1 285.9 197.8 285.6 199.0 285.3 C200.2 285.1 201.6 284.5 202.9 284.4 C204.2 284.2 205.6 284.3 206.8 284.4 C207.9 284.5 208.4 284.6 209.7 284.9 C210.9 285.1 212.6 285.5 214.3 285.9 C216.0 286.4 218.3 287.9 219.7 287.5 C221.1 287.1 221.8 284.1 222.8 283.3 C223.8 282.5 224.7 282.4 225.9 282.8 C227.1 283.3 228.5 285.4 229.8 285.9 C231.1 286.5 232.4 285.9 233.7 285.9 C235.0 285.9 236.1 285.6 237.5 285.9 C238.9 286.3 240.8 287.3 242.2 287.9 C243.6 288.6 244.9 289.8 246.1 290.0 C247.2 290.1 248.2 289.2 249.2 288.7 C250.1 288.3 250.6 287.5 251.5 287.2 C252.3 286.9 253.2 286.3 254.3 286.9 C255.3 287.4 256.3 289.6 257.7 290.6 C259.0 291.5 260.8 291.9 262.3 292.6 C263.9 293.3 265.2 294.0 267.0 294.9 C268.8 295.9 271.1 297.3 273.2 298.3 C275.2 299.3 277.3 300.2 279.4 300.8 C281.4 301.5 283.5 301.8 285.6 302.2 C287.6 302.6 290.0 302.9 291.8 303.0 C293.5 303.1 294.4 302.9 296.2 303.0 C298.0 303.1 300.3 303.4 302.4 303.4 C304.5 303.5 306.5 303.4 308.6 303.4 C310.7 303.5 312.7 303.8 314.8 303.9 C316.8 304.0 318.9 304.1 321.0 304.2 C323.0 304.3 325.4 304.5 327.2 304.5 C329.0 304.5 330.3 304.0 331.8 304.2 C333.4 304.5 334.9 305.4 336.5 306.1 C338.0 306.8 339.7 308.0 341.1 308.6 C342.5 309.1 343.7 309.6 345.0 309.6 C346.3 309.7 347.4 309.2 348.9 308.9 C350.3 308.5 352.0 307.9 353.5 307.3 C355.1 306.7 356.7 306.0 358.2 305.5 C359.6 304.9 361.0 304.5 362.0 304.2 C363.1 303.9 363.6 303.8 364.4 303.8 C365.1 303.8 365.8 303.9 366.7 304.2 C367.6 304.6 368.7 305.8 369.8 305.8 C370.8 305.8 371.7 304.7 372.9 304.2 C374.0 303.7 375.6 302.9 376.8 302.7 C377.9 302.4 378.4 303.0 379.6 302.7 C380.9 302.4 382.7 301.3 384.3 300.8 C385.8 300.3 387.4 300.0 388.9 299.6 C390.5 299.2 392.0 298.8 393.6 298.5 C395.1 298.2 396.7 298.0 398.2 297.6 C399.8 297.1 401.3 296.4 402.9 295.7 C404.4 295.0 406.0 294.1 407.5 293.4 C409.1 292.6 410.6 292.0 412.2 291.4 C413.7 290.7 415.3 290.1 416.8 289.5 C418.4 288.9 419.9 288.5 421.5 287.9 C423.0 287.4 424.6 286.8 426.1 286.4 C427.7 286.0 429.2 285.8 430.8 285.6 C432.3 285.4 433.9 285.2 435.4 285.3 C437.0 285.4 438.5 285.6 440.1 286.1 C441.6 286.6 443.2 287.5 444.7 288.4 C446.3 289.4 447.8 290.5 449.4 291.8 C450.9 293.2 452.4 294.8 454.0 296.5 C455.6 298.1 457.2 300.2 458.6 301.9 C460.1 303.6 461.5 305.1 462.5 306.5 C463.6 308.0 463.8 309.2 465.0 310.7 C466.2 312.2 468.5 314.4 469.9 315.6 C471.3 316.7 472.0 317.0 473.2 317.6 C474.4 318.1 475.9 318.3 477.3 318.9 C478.6 319.4 479.9 320.2 481.4 320.8 C482.9 321.4 484.6 321.8 486.3 322.5 C487.9 323.2 489.5 324.0 491.2 325.1 C492.8 326.1 494.4 327.3 496.1 328.7 C497.7 330.1 499.3 331.9 501.0 333.6 C502.6 335.3 504.2 337.0 505.9 338.8 C507.5 340.6 509.1 342.4 510.8 344.2 C512.4 346.0 514.1 347.9 515.7 349.6 C517.3 351.3 519.0 353.0 520.6 354.5 C522.2 356.1 523.9 357.5 525.5 358.9 C527.1 360.3 528.8 361.8 530.4 363.0 C532.0 364.2 533.7 365.4 535.3 366.3 C536.9 367.2 538.7 367.9 540.2 368.4 C541.7 368.9 543.1 369.2 544.3 369.2 C545.5 369.2 546.5 368.8 547.6 368.4 C548.7 368.0 549.6 367.5 550.8 366.6 C552.1 365.8 554.4 363.9 555.1 363.3" fill="none" stroke="#ff8000" stroke-width="1.9" stroke-linejoin="round" stroke-linecap="butt" clip-path="url(#ca)"/>
<path d="M156.4 259.0 C156.8 259.3 158.0 260.4 158.7 260.8 C159.4 261.3 160.0 261.9 160.6 261.6 C161.2 261.4 161.5 259.2 162.1 259.3 C162.7 259.4 163.2 261.2 164.2 262.1 C165.1 263.0 166.8 263.9 168.0 264.7 C169.3 265.5 170.5 266.6 171.6 266.7 C172.6 266.9 173.3 266.3 174.2 265.5 C175.2 264.7 176.3 262.9 177.3 262.1 C178.3 261.3 179.4 260.9 180.4 260.5 C181.4 260.1 182.6 259.5 183.5 259.6 C184.4 259.7 184.9 260.1 185.8 260.8 C186.7 261.6 187.9 263.0 188.9 263.9 C190.0 264.8 191.0 265.7 192.0 266.3 C193.1 266.8 194.1 267.3 195.1 267.4 C196.2 267.4 197.1 267.0 198.2 266.7 C199.4 266.4 200.7 265.7 202.1 265.5 C203.5 265.3 205.6 265.5 206.8 265.5 C207.9 265.4 208.0 265.0 208.9 265.2 C209.7 265.4 210.8 266.1 212.0 266.7 C213.1 267.4 214.5 268.8 215.8 268.9 C217.1 269.0 218.3 267.6 219.7 267.0 C221.1 266.5 222.9 265.4 224.4 265.5 C225.8 265.5 226.8 266.6 228.2 267.4 C229.7 268.1 231.3 269.7 232.9 270.1 C234.4 270.6 236.0 269.7 237.5 269.8 C239.1 270.0 240.8 270.4 242.2 270.9 C243.6 271.4 244.9 272.5 246.1 272.9 C247.2 273.4 248.2 273.9 249.2 273.7 C250.1 273.5 250.6 272.2 251.5 271.7 C252.3 271.1 253.4 269.9 254.3 270.4 C255.2 271.0 255.8 274.0 256.9 274.8 C258.0 275.6 259.1 274.9 260.8 275.2 C262.4 275.6 264.6 276.2 267.0 276.8 C269.3 277.4 272.1 278.0 274.7 278.7 C277.3 279.3 279.9 280.0 282.4 280.5 C285.0 281.1 287.6 281.7 290.2 282.1 C292.8 282.5 295.2 282.6 297.8 282.8 C300.3 283.0 302.9 283.1 305.5 283.3 C308.1 283.5 310.7 283.6 313.2 283.8 C315.8 283.9 318.4 284.1 321.0 284.1 C323.6 284.1 326.4 283.7 328.7 283.6 C331.1 283.5 333.1 283.3 334.9 283.6 C336.7 283.9 338.1 285.1 339.6 285.6 C341.0 286.2 341.9 286.5 343.4 286.9 C345.0 287.2 346.9 287.3 348.9 287.6 C350.8 288.0 353.0 288.5 355.1 289.0 C357.1 289.5 359.5 290.1 361.3 290.6 C363.1 291.1 364.9 291.4 365.9 291.8 C366.9 292.2 366.4 292.9 367.4 293.1 C368.5 293.2 370.6 292.7 372.1 292.6 C373.7 292.5 375.5 292.7 376.8 292.6 C378.0 292.5 378.4 292.3 379.6 292.1 C380.9 291.9 382.6 291.7 384.3 291.5 C386.0 291.3 388.2 291.0 389.7 291.1 C391.3 291.1 392.3 291.7 393.6 291.8 C394.9 291.9 396.2 292.0 397.5 291.8 C398.8 291.6 399.9 291.0 401.3 290.6 C402.8 290.2 404.4 289.6 406.0 289.2 C407.5 288.8 409.1 288.6 410.6 288.4 C412.2 288.2 413.7 288.1 415.3 287.9 C416.8 287.8 418.4 287.6 419.9 287.6 C421.5 287.6 423.0 287.8 424.6 287.9 C426.1 288.1 427.7 288.4 429.2 288.7 C430.8 289.1 432.3 289.3 433.9 290.0 C435.4 290.6 437.0 291.6 438.5 292.6 C440.1 293.6 441.6 294.6 443.2 295.7 C444.7 296.8 446.3 298.0 447.8 299.3 C449.4 300.6 450.9 302.0 452.4 303.4 C454.0 304.9 455.6 306.5 457.1 308.1 C458.7 309.6 460.4 311.6 461.8 312.7 C463.1 313.9 463.6 313.6 465.0 314.8 C466.4 315.9 468.3 318.2 469.9 319.7 C471.5 321.2 473.2 322.6 474.8 323.8 C476.4 324.9 478.1 325.8 479.7 326.7 C481.4 327.7 483.0 328.5 484.6 329.5 C486.3 330.4 487.9 331.4 489.5 332.4 C491.2 333.4 492.8 334.3 494.4 335.5 C496.1 336.7 497.7 338.2 499.3 339.6 C501.0 341.1 502.6 342.7 504.2 344.2 C505.9 345.7 507.5 347.3 509.1 348.8 C510.8 350.3 512.4 351.8 514.0 353.2 C515.7 354.6 517.3 356.0 519.0 357.3 C520.6 358.6 522.2 359.9 523.9 361.1 C525.5 362.2 527.1 363.2 528.8 364.2 C530.4 365.1 532.0 365.9 533.7 366.6 C535.3 367.3 536.9 367.9 538.6 368.2 C540.2 368.6 542.1 368.8 543.5 368.7 C544.9 368.7 545.7 368.4 546.8 367.9 C547.9 367.5 548.9 366.8 550.0 366.0 C551.1 365.1 552.5 363.8 553.3 363.0 C554.1 362.2 554.8 361.7 555.1 361.4" fill="none" stroke="#ff0000" stroke-width="1.9" stroke-linejoin="round" stroke-linecap="butt" clip-path="url(#ca)"/>
<line x1="124.30" y1="321.30" x2="130.54" y2="326.78" stroke="#00ff00" stroke-width="1.55" />
<line x1="135.08" y1="330.76" x2="141.32" y2="336.24" stroke="#00ff00" stroke-width="1.55" />
<line x1="145.86" y1="340.22" x2="152.10" y2="345.70" stroke="#00ff00" stroke-width="1.55" />
<line x1="124.30" y1="307.60" x2="130.72" y2="313.80" stroke="#000000" stroke-width="1.55" />
<line x1="135.39" y1="318.30" x2="141.81" y2="324.50" stroke="#000000" stroke-width="1.55" />
<line x1="146.48" y1="329.01" x2="152.90" y2="335.20" stroke="#000000" stroke-width="1.55" />
<line x1="124.30" y1="305.40" x2="130.90" y2="310.18" stroke="#00ffff" stroke-width="1.55" />
<line x1="135.70" y1="313.66" x2="142.30" y2="318.44" stroke="#00ffff" stroke-width="1.55" />
<line x1="147.10" y1="321.92" x2="153.70" y2="326.70" stroke="#00ffff" stroke-width="1.55" />
<line x1="124.30" y1="294.90" x2="130.90" y2="298.47" stroke="#0000ff" stroke-width="1.55" />
<line x1="135.70" y1="301.07" x2="142.30" y2="304.64" stroke="#0000ff" stroke-width="1.55" />
<line x1="147.10" y1="307.23" x2="153.70" y2="310.80" stroke="#0000ff" stroke-width="1.55" />
<line x1="124.30" y1="289.90" x2="130.90" y2="291.90" stroke="#008000" stroke-width="1.55" />
<line x1="135.70" y1="293.35" x2="142.30" y2="295.35" stroke="#008000" stroke-width="1.55" />
<line x1="147.10" y1="296.80" x2="153.70" y2="298.80" stroke="#008000" stroke-width="1.55" />
<line x1="124.30" y1="270.50" x2="130.90" y2="269.00" stroke="#808000" stroke-width="1.55" />
<line x1="135.70" y1="267.90" x2="142.30" y2="266.40" stroke="#808000" stroke-width="1.55" />
<line x1="147.10" y1="265.30" x2="153.70" y2="263.80" stroke="#808000" stroke-width="1.55" />
<line x1="124.30" y1="277.50" x2="130.90" y2="278.49" stroke="#ff8000" stroke-width="1.55" />
<line x1="135.70" y1="279.21" x2="142.30" y2="280.19" stroke="#ff8000" stroke-width="1.55" />
<line x1="147.10" y1="280.91" x2="153.70" y2="281.90" stroke="#ff8000" stroke-width="1.55" />
<line x1="124.30" y1="257.50" x2="130.90" y2="258.24" stroke="#ff0000" stroke-width="1.55" />
<line x1="135.70" y1="258.78" x2="142.30" y2="259.52" stroke="#ff0000" stroke-width="1.55" />
<line x1="147.10" y1="260.06" x2="153.70" y2="260.80" stroke="#ff0000" stroke-width="1.55" />
<path d="M222.0 673.7 C222.2 672.7 222.7 667.9 223.1 667.5 C223.4 667.1 223.7 671.5 224.0 671.4 C224.3 671.3 224.5 668.2 224.9 666.8 C225.3 665.3 225.9 665.9 226.6 662.9 C227.3 659.9 228.3 653.8 228.9 648.9 C229.6 644.0 230.0 638.1 230.5 633.5 C231.0 628.8 231.4 624.5 232.0 621.1 C232.7 617.6 233.5 614.7 234.4 612.5 C235.3 610.3 236.4 609.0 237.5 607.9 C238.5 606.8 239.7 606.1 240.6 605.9 C241.5 605.6 242.1 607.4 242.9 606.3 C243.7 605.3 244.4 602.2 245.2 599.4 C246.0 596.5 246.7 591.7 247.5 589.3 C248.4 586.9 249.5 585.1 250.3 585.1 C251.1 585.1 251.6 586.7 252.2 589.3 C252.7 591.9 253.2 597.2 253.7 600.9 C254.3 604.7 255.0 609.4 255.6 611.8 C256.2 614.1 256.5 615.2 257.1 614.9 C257.7 614.5 258.4 611.2 259.1 609.4 C259.9 607.6 260.7 605.7 261.5 604.0 C262.2 602.3 263.0 600.6 263.8 599.4 C264.6 598.1 265.3 597.8 266.1 596.6 C266.9 595.4 267.7 593.9 268.4 592.4 C269.2 590.9 270.0 589.6 270.8 587.8 C271.5 586.0 272.3 583.8 273.1 581.6 C273.9 579.4 274.6 576.7 275.4 574.6 C276.2 572.5 277.0 571.1 277.7 569.2 C278.5 567.2 279.0 566.0 280.1 563.0 C281.2 560.0 283.0 555.8 284.3 551.2 C285.7 546.7 286.9 540.9 288.2 535.8 C289.5 530.6 290.8 525.2 292.1 520.3 C293.4 515.4 294.6 510.7 295.9 506.3 C297.2 501.9 298.5 497.7 299.8 493.9 C301.1 490.2 302.4 486.7 303.7 483.9 C305.0 481.0 306.3 478.8 307.6 476.9 C308.9 474.9 310.1 473.5 311.4 472.2 C312.7 471.0 314.1 470.1 315.5 469.4 C316.8 468.8 318.4 468.6 319.6 468.4 C320.9 468.1 321.7 468.0 322.7 468.1 C323.8 468.1 324.8 468.4 325.8 468.8 C326.9 469.3 327.9 469.9 328.9 470.7 C330.0 471.5 331.0 472.6 332.0 473.8 C333.1 474.9 334.1 476.4 335.1 477.7 C336.2 479.0 337.2 480.3 338.2 481.5 C339.3 482.7 340.3 484.2 341.3 484.9 C342.4 485.7 343.4 485.9 344.4 486.2 C345.5 486.5 346.9 486.4 347.5 486.6 C348.1 486.8 347.5 486.9 348.1 487.4 C348.7 488.0 350.2 489.1 351.2 490.1 C352.2 491.0 353.3 492.2 354.3 493.1 C355.3 494.1 356.4 494.6 357.4 495.5 C358.4 496.4 359.5 497.5 360.5 498.6 C361.5 499.6 362.6 500.5 363.6 501.7 C364.6 502.8 365.7 504.4 366.7 505.5 C367.7 506.7 368.7 507.7 369.8 508.6 C370.8 509.5 371.8 510.1 372.9 511.0 C373.9 511.9 374.9 513.2 376.0 514.1 C377.0 515.0 378.0 515.8 379.1 516.4 C380.1 516.9 381.1 517.0 382.2 517.5 C383.2 518.0 384.2 518.6 385.3 519.5 C386.3 520.3 387.3 521.5 388.4 522.6 C389.4 523.6 390.4 524.8 391.5 525.7 C392.5 526.6 393.7 527.5 394.6 528.0 C395.5 528.5 396.0 528.5 396.9 528.8 C397.8 529.0 399.0 529.4 400.0 529.5 C401.0 529.7 402.1 529.7 403.1 529.9 C404.1 530.1 405.2 530.3 406.2 530.8 C407.2 531.3 408.3 532.0 409.3 532.6 C410.3 533.3 411.3 534.1 412.4 535.0 C413.4 535.9 414.4 536.9 415.5 538.1 C416.5 539.2 417.5 540.5 418.6 541.9 C419.6 543.4 420.6 545.0 421.7 546.6 C422.7 548.1 423.7 549.6 424.8 551.2 C425.8 552.9 426.8 555.0 427.9 556.7 C428.9 558.3 429.9 560.0 431.0 561.3 C432.0 562.6 433.0 562.8 434.2 564.5 C435.4 566.2 436.8 569.3 438.1 571.5 C439.4 573.6 440.7 575.8 442.0 577.6 C443.2 579.5 444.7 581.3 445.8 582.6 C447.0 583.9 447.8 584.5 448.9 585.2 C450.1 586.0 451.4 586.7 452.8 587.1 C454.2 587.5 456.0 587.7 457.4 587.6 C458.9 587.5 460.0 587.0 461.3 586.5 C462.6 586.0 463.9 585.3 465.2 584.6 C466.5 583.9 467.7 583.5 469.1 582.4 C470.4 581.4 471.8 579.2 473.2 578.2 C474.5 577.3 475.9 577.1 477.3 576.6 C478.6 576.1 480.0 575.6 481.4 575.3 C482.7 575.0 484.1 574.8 485.4 574.6 C486.8 574.5 488.0 574.5 489.5 574.5 C491.0 574.5 492.8 574.5 494.4 574.5 C496.1 574.4 497.7 574.3 499.3 574.1 C501.0 574.0 502.6 574.1 504.2 573.8 C505.9 573.5 507.5 573.0 509.1 572.5 C510.8 572.0 512.4 571.5 514.0 571.0 C515.7 570.5 517.3 570.0 519.0 569.6 C520.6 569.1 522.2 568.7 523.9 568.3 C525.5 567.9 527.1 567.5 528.8 567.1 C530.4 566.7 532.0 566.2 533.7 565.8 C535.3 565.4 536.9 565.0 538.6 564.7 C540.2 564.3 541.9 564.1 543.5 563.9 C545.1 563.6 546.8 563.3 548.4 563.0 C550.0 562.8 552.2 562.4 553.3 562.2 C554.4 562.0 554.8 562.1 555.1 562.0" fill="none" stroke="#00ff00" stroke-width="1.9" stroke-linejoin="round" stroke-linecap="butt" clip-path="url(#cb)"/>
<path d="M227.9 673.7 C228.2 671.7 229.2 665.5 229.7 661.3 C230.3 657.2 230.8 653.1 231.3 648.9 C231.8 644.8 232.2 640.7 232.8 636.5 C233.4 632.4 234.1 627.3 234.8 624.2 C235.5 621.1 236.2 619.6 237.0 618.0 C237.8 616.4 238.7 615.1 239.5 614.5 C240.3 614.0 240.9 614.0 241.6 614.5 C242.4 615.1 243.4 618.9 244.1 618.0 C244.8 617.0 245.4 611.9 246.0 608.7 C246.6 605.4 247.2 601.1 247.8 598.6 C248.5 596.1 249.3 594.1 249.8 594.0 C250.4 593.8 250.9 595.4 251.4 597.8 C251.9 600.3 252.4 604.8 252.9 608.7 C253.5 612.5 254.0 617.6 254.5 621.1 C255.0 624.5 255.4 629.1 256.1 629.6 C256.7 630.1 257.6 626.0 258.4 624.2 C259.1 622.4 259.8 620.9 260.7 618.7 C261.6 616.5 262.8 613.6 263.8 611.0 C264.8 608.4 265.9 605.4 266.9 603.2 C267.9 601.1 269.0 600.1 270.0 597.8 C271.0 595.5 272.1 592.4 273.1 589.3 C274.1 586.2 275.3 582.2 276.2 579.2 C277.1 576.3 277.7 574.1 278.5 571.5 C279.3 568.9 279.8 567.1 280.8 563.8 C281.9 560.4 283.5 555.9 284.8 551.2 C286.1 546.6 287.4 540.9 288.7 535.8 C290.0 530.6 291.2 525.2 292.5 520.3 C293.8 515.4 295.1 510.7 296.4 506.3 C297.7 501.9 299.0 497.7 300.3 493.9 C301.6 490.2 302.9 486.7 304.1 483.9 C305.4 481.0 306.7 478.8 308.0 476.9 C309.3 474.9 310.6 473.5 311.9 472.2 C313.2 471.0 314.5 470.1 315.8 469.4 C317.1 468.8 318.5 468.6 319.6 468.4 C320.8 468.1 321.7 468.0 322.7 468.1 C323.8 468.1 324.8 468.4 325.8 468.8 C326.9 469.3 327.9 469.9 328.9 470.7 C330.0 471.5 331.0 472.6 332.0 473.8 C333.1 474.9 334.1 476.4 335.1 477.7 C336.2 479.0 337.2 480.3 338.2 481.5 C339.3 482.7 340.3 484.2 341.3 484.9 C342.4 485.7 343.4 485.9 344.4 486.2 C345.5 486.5 346.9 486.4 347.5 486.6 C348.1 486.8 347.5 486.9 348.1 487.4 C348.7 488.0 350.2 489.1 351.2 490.1 C352.2 491.0 353.3 492.2 354.3 493.1 C355.3 494.1 356.4 494.6 357.4 495.5 C358.4 496.4 359.5 497.5 360.5 498.6 C361.5 499.6 362.6 500.5 363.6 501.7 C364.6 502.8 365.7 504.4 366.7 505.5 C367.7 506.7 368.7 507.7 369.8 508.6 C370.8 509.5 371.8 510.1 372.9 511.0 C373.9 511.9 374.9 513.2 376.0 514.1 C377.0 515.0 378.0 515.8 379.1 516.4 C380.1 516.9 381.1 517.0 382.2 517.5 C383.2 518.0 384.2 518.6 385.3 519.5 C386.3 520.3 387.3 521.5 388.4 522.6 C389.4 523.6 390.4 524.8 391.5 525.7 C392.5 526.6 393.7 527.5 394.6 528.0 C395.5 528.5 396.0 528.5 396.9 528.8 C397.8 529.0 399.0 529.4 400.0 529.5 C401.0 529.7 402.1 529.7 403.1 529.9 C404.1 530.1 405.2 530.3 406.2 530.8 C407.2 531.3 408.3 532.0 409.3 532.6 C410.3 533.3 411.3 534.1 412.4 535.0 C413.4 535.9 414.4 536.9 415.5 538.1 C416.5 539.2 417.5 540.5 418.6 541.9 C419.6 543.4 420.6 545.0 421.7 546.6 C422.7 548.1 423.7 549.6 424.8 551.2 C425.8 552.9 426.8 555.0 427.9 556.7 C428.9 558.3 429.9 560.0 431.0 561.3 C432.0 562.6 433.0 562.8 434.2 564.5 C435.4 566.2 436.8 569.3 438.1 571.5 C439.4 573.6 440.7 575.8 442.0 577.6 C443.2 579.5 444.7 581.3 445.8 582.6 C447.0 583.9 447.8 584.5 448.9 585.2 C450.1 586.0 451.4 586.7 452.8 587.1 C454.2 587.5 456.0 587.7 457.4 587.6 C458.9 587.5 460.0 587.0 461.3 586.5 C462.6 586.0 463.9 585.3 465.2 584.6 C466.5 583.9 467.7 583.5 469.1 582.4 C470.4 581.4 471.8 579.2 473.2 578.2 C474.5 577.3 475.9 577.1 477.3 576.6 C478.6 576.1 480.0 575.6 481.4 575.3 C482.7 575.0 484.1 574.8 485.4 574.6 C486.8 574.5 488.0 574.5 489.5 574.5 C491.0 574.5 492.8 574.5 494.4 574.5 C496.1 574.4 497.7 574.3 499.3 574.1 C501.0 574.0 502.6 574.1 504.2 573.8 C505.9 573.5 507.5 573.0 509.1 572.5 C510.8 572.0 512.4 571.5 514.0 571.0 C515.7 570.5 517.3 570.0 519.0 569.6 C520.6 569.1 522.2 568.7 523.9 568.3 C525.5 567.9 527.1 567.5 528.8 567.1 C530.4 566.7 532.0 566.2 533.7 565.8 C535.3 565.4 536.9 565.0 538.6 564.7 C540.2 564.3 541.9 564.1 543.5 563.9 C545.1 563.6 546.8 563.3 548.4 563.0 C550.0 562.8 552.2 562.4 553.3 562.2 C554.4 562.0 554.8 562.1 555.1 562.0" fill="none" stroke="#000000" stroke-width="1.9" stroke-linejoin="round" stroke-linecap="butt" clip-path="url(#cb)"/>
<path d="M233.1 673.9 C233.2 672.8 233.4 669.7 233.6 667.5 C233.8 665.3 234.1 663.0 234.4 660.7 C234.6 658.4 234.7 656.0 235.1 653.8 C235.6 651.5 236.3 648.9 237.0 646.9 C237.7 645.0 238.3 643.6 239.2 642.0 C240.0 640.4 241.2 639.5 242.1 637.3 C243.0 635.1 243.7 632.6 244.4 628.8 C245.2 625.1 246.0 619.0 246.8 614.9 C247.5 610.7 248.2 606.2 248.8 604.0 C249.4 601.8 249.8 600.7 250.3 601.7 C250.9 602.7 251.6 606.7 252.2 610.2 C252.7 613.7 253.2 618.7 253.7 622.6 C254.3 626.5 254.9 632.2 255.6 633.5 C256.2 634.7 256.7 631.9 257.6 630.4 C258.5 628.8 259.5 626.5 260.7 624.2 C261.9 621.8 263.3 619.1 264.6 616.4 C265.9 613.7 267.1 610.7 268.4 607.9 C269.7 605.0 271.0 602.6 272.3 599.4 C273.6 596.1 274.9 592.4 276.2 588.5 C277.5 584.7 278.9 579.9 280.1 576.1 C281.2 572.4 281.9 570.2 283.2 566.1 C284.5 561.9 286.4 556.3 287.9 551.2 C289.3 546.2 290.5 540.9 291.8 535.8 C293.1 530.6 294.3 525.0 295.6 520.3 C296.9 515.5 298.2 511.1 299.5 507.1 C300.8 503.1 302.1 499.3 303.4 496.2 C304.7 493.2 306.0 490.6 307.2 488.5 C308.5 486.4 309.8 484.7 311.1 483.4 C312.4 482.1 313.7 481.3 315.0 480.8 C316.3 480.2 317.7 480.1 318.9 480.0 C320.0 479.9 321.1 480.0 322.0 480.3 C322.8 480.6 323.3 481.5 323.8 481.8 C324.4 482.2 324.8 482.7 325.4 482.3 C326.0 481.9 326.7 480.1 327.4 479.2 C328.1 478.4 328.9 477.4 329.7 477.2 C330.5 476.9 331.1 477.2 332.0 477.7 C332.9 478.1 334.1 478.9 335.1 480.0 C336.2 481.0 337.2 482.4 338.2 483.9 C339.3 485.3 340.3 486.8 341.3 488.5 C342.4 490.2 343.5 492.4 344.4 493.9 C345.3 495.4 346.1 496.9 346.8 497.3 C347.4 497.7 348.0 496.7 348.6 496.2 C349.2 495.8 349.6 494.7 350.4 494.7 C351.2 494.7 352.5 495.6 353.5 496.2 C354.6 496.9 355.6 497.5 356.6 498.6 C357.7 499.6 358.8 501.1 359.7 502.4 C360.6 503.8 361.4 506.4 362.0 506.6 C362.7 506.9 362.9 504.7 363.6 504.0 C364.2 503.3 365.0 502.5 365.9 502.4 C366.8 502.4 368.0 503.0 369.0 503.5 C370.0 504.0 371.1 504.7 372.1 505.5 C373.1 506.4 374.2 507.6 375.2 508.6 C376.2 509.7 377.3 510.7 378.3 511.7 C379.3 512.8 380.4 513.8 381.4 514.8 C382.4 515.9 383.5 516.9 384.5 517.9 C385.5 519.0 386.6 520.0 387.6 521.0 C388.6 522.1 389.7 523.1 390.7 524.1 C391.7 525.1 392.8 526.1 393.8 526.9 C394.8 527.7 395.9 528.3 396.9 528.8 C397.9 529.2 399.0 529.4 400.0 529.5 C401.0 529.7 402.1 529.7 403.1 529.9 C404.1 530.1 405.2 530.3 406.2 530.8 C407.2 531.3 408.3 532.0 409.3 532.6 C410.3 533.3 411.3 534.1 412.4 535.0 C413.4 535.9 414.4 536.9 415.5 538.1 C416.5 539.2 417.5 540.5 418.6 541.9 C419.6 543.4 420.6 545.0 421.7 546.6 C422.7 548.1 423.7 549.6 424.8 551.2 C425.8 552.9 426.8 555.0 427.9 556.7 C428.9 558.3 429.9 560.0 431.0 561.3 C432.0 562.6 433.0 562.8 434.2 564.5 C435.4 566.2 436.8 569.3 438.1 571.5 C439.4 573.6 440.7 575.8 442.0 577.6 C443.2 579.5 444.7 581.3 445.8 582.6 C447.0 583.9 447.8 584.5 448.9 585.2 C450.1 586.0 451.4 586.7 452.8 587.1 C454.2 587.5 456.0 587.7 457.4 587.6 C458.9 587.5 460.0 587.0 461.3 586.5 C462.6 586.0 463.9 585.3 465.2 584.6 C466.5 583.9 467.7 583.5 469.1 582.4 C470.4 581.4 471.8 579.2 473.2 578.2 C474.5 577.3 475.9 577.1 477.3 576.6 C478.6 576.1 480.0 575.6 481.4 575.3 C482.7 575.0 484.1 574.8 485.4 574.6 C486.8 574.5 488.0 574.5 489.5 574.5 C491.0 574.5 492.8 574.5 494.4 574.5 C496.1 574.4 497.7 574.3 499.3 574.1 C501.0 574.0 502.6 574.1 504.2 573.8 C505.9 573.5 507.5 573.0 509.1 572.5 C510.8 572.0 512.4 571.5 514.0 571.0 C515.7 570.5 517.3 570.0 519.0 569.6 C520.6 569.1 522.2 568.7 523.9 568.3 C525.5 567.9 527.1 567.5 528.8 567.1 C530.4 566.7 532.0 566.2 533.7 565.8 C535.3 565.4 536.9 565.0 538.6 564.7 C540.2 564.3 541.9 564.1 543.5 563.9 C545.1 563.6 546.8 563.3 548.4 563.0 C550.0 562.8 552.2 562.4 553.3 562.2 C554.4 562.0 554.8 562.1 555.1 562.0" fill="none" stroke="#00ffff" stroke-width="1.9" stroke-linejoin="round" stroke-linecap="butt" clip-path="url(#cb)"/>
<path d="M266.4 673.7 C267.2 670.6 269.4 661.1 270.8 655.1 C272.1 649.2 273.3 643.8 274.6 638.1 C275.9 632.4 277.2 626.7 278.5 621.1 C279.8 615.4 281.1 609.7 282.4 604.0 C283.7 598.3 285.0 592.5 286.3 587.0 C287.6 581.4 288.7 576.2 290.1 570.7 C291.6 565.3 293.5 558.9 294.9 554.3 C296.2 549.8 296.9 547.1 297.9 543.5 C299.0 539.9 300.0 536.1 301.1 532.6 C302.1 529.2 303.1 525.7 304.1 522.6 C305.2 519.5 306.2 516.8 307.2 514.1 C308.3 511.3 309.3 508.6 310.3 506.3 C311.4 504.0 312.4 501.9 313.4 500.1 C314.5 498.3 315.5 496.7 316.5 495.5 C317.6 494.2 318.6 493.4 319.6 492.7 C320.7 492.0 321.7 491.6 322.7 491.3 C323.8 491.0 324.8 490.8 325.8 490.8 C326.9 490.9 328.0 491.4 328.9 491.6 C329.8 491.8 330.5 492.1 331.3 492.1 C332.0 492.1 332.8 491.5 333.6 491.6 C334.4 491.7 335.1 492.2 335.9 492.7 C336.7 493.2 337.5 493.7 338.2 494.7 C339.0 495.7 339.8 497.3 340.6 498.6 C341.3 499.9 342.1 501.7 342.9 502.4 C343.6 503.2 344.4 503.1 345.2 503.2 C346.0 503.3 347.0 502.9 347.5 502.9 C348.0 503.0 347.5 503.1 348.1 503.5 C348.7 504.0 350.2 504.7 351.2 505.5 C352.2 506.4 353.3 507.7 354.3 508.6 C355.3 509.5 356.4 510.3 357.4 511.0 C358.4 511.7 359.5 512.2 360.5 512.8 C361.5 513.5 362.7 514.1 363.6 514.8 C364.5 515.6 365.1 516.8 365.9 517.2 C366.7 517.5 367.5 516.6 368.2 516.9 C369.0 517.1 369.7 518.1 370.6 518.7 C371.5 519.4 372.6 520.2 373.7 520.7 C374.7 521.2 375.7 521.4 376.8 521.8 C377.8 522.2 378.8 522.6 379.9 523.0 C380.9 523.5 381.9 523.9 382.9 524.4 C384.0 525.0 385.0 525.5 386.1 526.1 C387.1 526.8 388.1 527.6 389.1 528.3 C390.2 529.0 391.2 529.7 392.2 530.3 C393.3 530.9 394.3 531.5 395.3 531.9 C396.4 532.3 397.4 532.4 398.4 532.6 C399.5 532.9 400.5 533.2 401.5 533.4 C402.6 533.7 403.6 533.9 404.6 534.2 C405.7 534.5 406.7 534.9 407.7 535.4 C408.8 536.0 409.8 536.8 410.8 537.6 C411.9 538.4 412.9 539.1 413.9 540.1 C415.0 541.1 416.0 542.3 417.0 543.5 C418.1 544.7 419.1 545.9 420.1 547.4 C421.2 548.8 422.2 550.5 423.2 552.0 C424.3 553.6 425.3 555.1 426.3 556.7 C427.4 558.2 428.8 560.6 429.4 561.3 C430.1 562.0 429.5 559.8 430.3 560.9 C431.1 562.0 432.9 565.6 434.2 567.9 C435.5 570.1 436.8 572.4 438.1 574.4 C439.4 576.4 440.7 578.3 442.0 580.0 C443.2 581.6 444.5 583.0 445.8 584.1 C447.1 585.3 448.4 586.3 449.7 586.9 C451.0 587.6 452.3 587.8 453.6 588.0 C454.9 588.2 456.2 588.2 457.4 588.0 C458.7 587.8 460.0 587.3 461.3 586.8 C462.6 586.3 463.9 585.6 465.2 584.9 C466.5 584.2 467.7 583.7 469.1 582.6 C470.4 581.5 471.8 579.2 473.2 578.2 C474.5 577.2 475.9 577.1 477.3 576.6 C478.6 576.1 480.0 575.6 481.4 575.3 C482.7 575.0 484.1 574.8 485.4 574.6 C486.8 574.5 488.0 574.5 489.5 574.5 C491.0 574.5 492.8 574.5 494.4 574.5 C496.1 574.4 497.7 574.3 499.3 574.1 C501.0 574.0 502.6 574.1 504.2 573.8 C505.9 573.5 507.5 573.0 509.1 572.5 C510.8 572.0 512.4 571.5 514.0 571.0 C515.7 570.5 517.3 570.0 519.0 569.6 C520.6 569.1 522.2 568.7 523.9 568.3 C525.5 567.9 527.1 567.5 528.8 567.1 C530.4 566.7 532.0 566.2 533.7 565.8 C535.3 565.4 536.9 565.0 538.6 564.7 C540.2 564.3 541.9 564.1 543.5 563.9 C545.1 563.6 546.8 563.3 548.4 563.0 C550.0 562.8 552.2 562.4 553.3 562.2 C554.4 562.0 554.8 562.1 555.1 562.0" fill="none" stroke="#0000ff" stroke-width="1.9" stroke-linejoin="round" stroke-linecap="butt" clip-path="url(#cb)"/>
<path d="M276.5 673.7 C277.1 670.9 279.1 662.4 280.4 656.7 C281.6 651.0 282.8 645.3 283.9 639.6 C285.0 634.0 286.0 628.3 287.0 622.6 C288.1 616.9 289.1 611.2 290.1 605.6 C291.2 599.9 292.2 594.0 293.2 588.5 C294.3 583.1 295.0 579.0 296.3 573.0 C297.6 567.1 299.7 558.1 301.1 552.8 C302.4 547.5 303.1 544.8 304.1 541.2 C305.2 537.6 306.2 534.1 307.2 531.1 C308.3 528.1 309.3 525.7 310.3 523.4 C311.4 521.0 312.4 519.0 313.4 517.2 C314.5 515.4 315.5 513.9 316.5 512.5 C317.6 511.1 318.6 509.7 319.6 508.6 C320.7 507.6 321.7 506.9 322.7 506.3 C323.8 505.7 324.8 505.3 325.8 505.1 C326.9 504.8 327.9 504.9 328.9 504.8 C330.0 504.7 331.1 504.3 332.0 504.5 C332.9 504.6 333.6 505.0 334.4 505.5 C335.1 506.1 335.9 507.2 336.7 507.9 C337.5 508.5 338.2 508.9 339.0 509.4 C339.8 509.9 340.6 510.3 341.3 511.0 C342.1 511.6 342.9 512.6 343.6 513.3 C344.4 513.9 345.2 514.8 346.0 514.8 C346.7 514.8 347.4 513.4 348.3 513.3 C349.2 513.2 350.2 513.5 351.2 514.1 C352.2 514.6 353.3 515.7 354.3 516.4 C355.3 517.0 356.4 517.4 357.4 517.9 C358.4 518.4 359.5 519.0 360.5 519.5 C361.5 520.0 362.6 520.4 363.6 521.0 C364.6 521.6 365.7 522.3 366.7 523.0 C367.7 523.8 368.9 525.4 369.8 525.7 C370.7 525.9 371.3 525.0 372.1 524.6 C372.9 524.2 373.5 523.4 374.4 523.4 C375.3 523.3 376.5 523.9 377.5 524.1 C378.6 524.4 379.6 524.5 380.6 524.9 C381.7 525.3 382.7 525.9 383.7 526.5 C384.8 527.0 385.8 527.7 386.8 528.3 C387.9 529.0 388.9 529.7 389.9 530.3 C391.0 531.0 392.0 531.7 393.0 532.3 C394.1 532.9 395.1 533.5 396.1 533.9 C397.2 534.3 398.2 534.3 399.2 534.7 C400.3 535.0 401.3 535.4 402.3 535.8 C403.3 536.1 404.4 536.5 405.4 537.0 C406.4 537.5 407.5 537.9 408.5 538.5 C409.5 539.2 410.6 539.9 411.6 540.7 C412.6 541.5 413.7 542.5 414.7 543.5 C415.7 544.5 416.8 545.6 417.8 546.9 C418.8 548.2 419.9 549.7 420.9 551.2 C421.9 552.7 423.0 554.3 424.0 555.9 C425.0 557.5 426.2 559.2 427.1 560.8 C428.0 562.5 428.5 564.1 429.6 566.0 C430.6 568.0 432.1 570.4 433.4 572.5 C434.7 574.6 436.0 576.8 437.3 578.7 C438.6 580.6 439.9 582.3 441.2 583.8 C442.5 585.3 443.8 586.7 445.1 587.7 C446.4 588.7 447.6 589.3 448.9 589.9 C450.2 590.4 451.5 590.9 452.8 591.1 C454.1 591.3 455.4 591.3 456.7 591.1 C458.0 590.9 459.3 590.4 460.6 589.9 C461.8 589.4 463.1 588.7 464.4 588.0 C465.7 587.3 467.5 586.6 468.3 585.7 C469.1 584.8 468.3 583.7 469.1 582.8 C469.9 581.9 471.8 580.9 473.2 580.1 C474.5 579.4 475.9 578.8 477.3 578.2 C478.6 577.6 480.0 577.1 481.4 576.7 C482.7 576.2 484.1 576.0 485.4 575.7 C486.8 575.5 488.0 575.4 489.5 575.3 C491.0 575.2 492.8 575.2 494.4 575.0 C496.1 574.9 497.7 574.7 499.3 574.5 C501.0 574.3 502.6 574.3 504.2 574.0 C505.9 573.6 507.5 573.1 509.1 572.6 C510.8 572.1 512.4 571.6 514.0 571.1 C515.7 570.6 517.3 570.1 519.0 569.6 C520.6 569.1 522.2 568.7 523.9 568.3 C525.5 567.9 527.1 567.6 528.8 567.1 C530.4 566.7 532.0 566.2 533.7 565.8 C535.3 565.4 536.9 565.0 538.6 564.7 C540.2 564.4 541.9 564.2 543.5 563.9 C545.1 563.6 546.8 563.3 548.4 563.1 C550.0 562.8 552.2 562.4 553.3 562.2 C554.4 562.1 554.8 562.1 555.1 562.1" fill="none" stroke="#008000" stroke-width="1.9" stroke-linejoin="round" stroke-linecap="butt" clip-path="url(#cb)"/>
<path d="M288.3 673.7 C288.7 671.7 290.1 665.5 290.9 661.3 C291.7 657.2 292.5 653.1 293.2 648.9 C294.0 644.8 294.8 640.7 295.6 636.5 C296.3 632.4 297.1 628.3 297.9 624.2 C298.6 620.0 299.4 615.6 300.2 611.8 C301.0 607.9 301.8 604.0 302.5 600.9 C303.2 597.8 303.6 595.8 304.3 593.2 C305.0 590.6 305.8 587.8 306.6 585.4 C307.4 583.1 308.0 581.3 308.9 579.2 C309.8 577.2 311.0 575.2 312.0 573.0 C313.1 570.8 314.1 568.4 315.1 566.1 C316.2 563.7 317.5 560.8 318.2 559.1 C319.0 557.4 319.3 557.1 319.8 556.0 C320.3 554.9 320.4 554.2 321.2 552.8 C321.9 551.3 323.3 549.0 324.3 547.4 C325.3 545.7 326.3 544.0 327.4 542.7 C328.4 541.4 329.6 540.3 330.5 539.6 C331.4 539.0 332.0 538.6 332.8 538.9 C333.6 539.1 334.4 540.3 335.1 541.2 C335.9 542.0 336.7 543.2 337.4 543.8 C338.2 544.4 339.0 544.8 339.8 545.0 C340.6 545.2 341.3 545.2 342.1 545.0 C342.9 544.8 343.8 544.4 344.4 543.8 C345.1 543.2 345.3 541.9 346.0 541.2 C346.6 540.5 347.6 540.0 348.3 539.6 C349.0 539.2 349.4 538.9 350.4 538.9 C351.4 538.8 353.0 539.1 354.3 539.1 C355.6 539.1 356.9 538.9 358.2 538.9 C359.5 538.9 360.9 538.9 362.0 539.1 C363.2 539.4 364.2 540.1 365.1 540.4 C366.0 540.7 366.8 541.5 367.5 541.2 C368.1 540.9 368.2 538.9 369.0 538.5 C369.8 538.2 370.9 538.9 372.1 538.9 C373.3 538.8 374.7 538.2 376.0 538.1 C377.3 537.9 378.6 537.9 379.9 538.1 C381.1 538.2 382.4 538.5 383.7 538.9 C385.0 539.2 386.4 539.7 387.6 540.4 C388.8 541.0 389.7 542.0 390.7 542.7 C391.7 543.4 392.8 544.1 393.8 544.6 C394.8 545.0 395.9 545.3 396.9 545.4 C397.9 545.4 399.0 545.0 400.0 545.0 C401.0 545.0 402.1 545.1 403.1 545.4 C404.1 545.6 405.2 545.8 406.2 546.3 C407.2 546.7 408.3 547.4 409.3 548.1 C410.3 548.8 411.3 549.6 412.4 550.5 C413.4 551.3 414.4 552.1 415.5 553.1 C416.5 554.1 417.5 555.5 418.6 556.7 C419.6 557.8 420.6 559.1 421.7 560.2 C422.7 561.4 423.6 562.1 424.8 563.6 C426.0 565.2 427.5 567.4 428.8 569.4 C430.1 571.4 431.4 573.7 432.7 575.6 C434.0 577.6 435.2 579.4 436.5 581.0 C437.8 582.7 439.1 584.3 440.4 585.7 C441.7 587.1 443.0 588.5 444.3 589.6 C445.6 590.7 446.9 591.7 448.2 592.4 C449.5 593.0 450.7 593.3 452.0 593.4 C453.3 593.6 454.6 593.6 455.9 593.4 C457.2 593.3 458.5 592.9 459.8 592.4 C461.1 591.8 462.4 591.1 463.6 590.3 C464.9 589.6 466.6 588.6 467.5 587.7 C468.4 586.8 468.1 586.0 469.1 585.0 C470.0 584.1 471.8 583.0 473.2 582.2 C474.5 581.3 475.9 580.6 477.3 579.9 C478.6 579.2 480.0 578.6 481.4 578.1 C482.7 577.6 484.1 577.2 485.4 576.9 C486.8 576.5 488.0 576.4 489.5 576.2 C491.0 576.0 492.8 575.9 494.4 575.6 C496.1 575.4 497.7 575.1 499.3 574.9 C501.0 574.6 502.6 574.5 504.2 574.1 C505.9 573.8 507.5 573.2 509.1 572.7 C510.8 572.2 512.4 571.6 514.0 571.1 C515.7 570.6 517.3 570.1 519.0 569.6 C520.6 569.2 522.2 568.7 523.9 568.3 C525.5 567.9 527.1 567.6 528.8 567.2 C530.4 566.8 532.0 566.3 533.7 565.9 C535.3 565.5 536.9 565.1 538.6 564.7 C540.2 564.4 541.9 564.2 543.5 563.9 C545.1 563.6 546.8 563.4 548.4 563.1 C550.0 562.8 552.2 562.5 553.3 562.3 C554.4 562.1 554.8 562.1 555.1 562.1" fill="none" stroke="#808000" stroke-width="1.9" stroke-linejoin="round" stroke-linecap="butt" clip-path="url(#cb)"/>
<path d="M300.9 673.7 C301.3 671.9 302.6 666.2 303.5 662.9 C304.5 659.5 305.6 656.4 306.6 653.6 C307.7 650.8 308.7 648.4 309.7 645.9 C310.8 643.3 311.9 639.8 312.8 638.1 C313.7 636.4 314.2 637.3 315.1 635.8 C316.0 634.2 317.2 630.6 318.2 628.8 C319.3 627.0 320.3 626.5 321.3 624.9 C322.4 623.4 323.4 621.2 324.4 619.5 C325.5 617.8 326.5 616.0 327.5 614.9 C328.6 613.7 329.6 612.9 330.6 612.5 C331.7 612.2 332.7 612.7 333.7 612.5 C334.8 612.4 335.9 612.1 336.8 611.5 C337.7 610.8 338.4 610.2 339.1 608.7 C339.9 607.2 340.7 605.1 341.5 602.5 C342.2 599.9 343.0 596.3 343.8 593.2 C344.6 590.1 345.3 586.7 346.1 583.9 C346.9 581.0 347.7 578.3 348.4 576.1 C349.2 573.9 349.9 572.4 350.8 570.7 C351.7 569.0 352.8 567.5 353.9 566.1 C354.9 564.7 355.9 563.1 357.0 562.2 C358.0 561.3 359.0 560.5 360.1 560.6 C361.1 560.8 362.1 562.1 363.2 563.0 C364.2 563.9 365.4 565.9 366.3 566.1 C367.2 566.2 367.8 565.0 368.6 563.8 C369.4 562.5 370.2 559.5 370.9 558.3 C371.6 557.1 372.0 557.3 372.9 556.7 C373.7 556.0 374.9 554.9 376.0 554.3 C377.0 553.8 377.9 553.4 379.1 553.6 C380.2 553.7 381.7 554.6 382.9 555.1 C384.2 555.6 385.5 556.2 386.8 556.7 C388.1 557.1 389.4 557.5 390.7 557.9 C392.0 558.3 393.4 558.9 394.6 559.0 C395.7 559.0 396.6 558.5 397.7 558.2 C398.7 557.9 399.7 557.2 400.8 557.1 C401.8 557.0 402.8 557.2 403.9 557.4 C404.9 557.6 405.9 557.8 407.0 558.2 C408.0 558.6 409.1 559.0 410.1 559.8 C411.0 560.5 411.5 561.8 412.5 562.9 C413.6 564.1 415.1 565.3 416.4 566.6 C417.7 568.0 419.0 569.5 420.3 571.0 C421.6 572.4 422.9 573.8 424.1 575.3 C425.4 576.8 426.7 578.5 428.0 580.0 C429.3 581.4 430.6 582.9 431.9 584.1 C433.2 585.4 434.5 586.5 435.8 587.7 C437.1 588.9 438.3 590.1 439.6 591.1 C440.9 592.1 442.2 593.1 443.5 593.8 C444.8 594.4 446.1 595.0 447.4 595.3 C448.7 595.6 450.0 595.8 451.3 595.8 C452.6 595.8 453.8 595.6 455.1 595.3 C456.4 595.0 457.7 594.5 459.0 593.9 C460.3 593.3 461.6 592.4 462.9 591.6 C464.2 590.7 465.7 589.5 466.8 588.8 C467.8 588.1 468.0 588.2 469.1 587.5 C470.2 586.7 471.8 585.3 473.2 584.3 C474.5 583.4 475.9 582.5 477.3 581.8 C478.6 581.0 480.0 580.2 481.4 579.6 C482.7 579.0 484.1 578.5 485.4 578.1 C486.8 577.7 488.0 577.4 489.5 577.1 C491.0 576.8 492.8 576.6 494.4 576.3 C496.1 576.0 497.7 575.6 499.3 575.3 C501.0 575.0 502.6 574.7 504.2 574.3 C505.9 573.9 507.5 573.3 509.1 572.7 C510.8 572.2 512.4 571.7 514.0 571.2 C515.7 570.6 517.3 570.1 519.0 569.7 C520.6 569.2 522.2 568.8 523.9 568.4 C525.5 568.0 527.1 567.6 528.8 567.2 C530.4 566.8 532.0 566.3 533.7 565.9 C535.3 565.5 536.9 565.1 538.6 564.8 C540.2 564.5 541.9 564.2 543.5 564.0 C545.1 563.7 546.8 563.4 548.4 563.1 C550.0 562.9 552.2 562.5 553.3 562.3 C554.4 562.2 554.8 562.2 555.1 562.2" fill="none" stroke="#ff8000" stroke-width="1.9" stroke-linejoin="round" stroke-linecap="butt" clip-path="url(#cb)"/>
<path d="M329.4 673.7 C329.7 673.3 330.7 672.0 331.4 671.4 C332.1 670.8 333.0 670.2 333.7 670.3 C334.5 670.4 335.3 671.5 336.1 671.9 C336.8 672.2 337.4 672.7 338.1 672.5 C338.7 672.3 339.2 671.7 339.9 670.6 C340.6 669.5 341.5 667.7 342.2 666.0 C343.0 664.3 343.7 662.2 344.6 660.6 C345.5 658.9 346.6 657.2 347.7 655.9 C348.7 654.6 349.7 653.9 350.8 652.8 C351.8 651.8 352.8 651.0 353.9 649.7 C354.9 648.4 355.9 646.5 357.0 645.1 C358.0 643.6 359.0 642.2 360.1 640.9 C361.1 639.6 362.3 638.3 363.2 637.3 C364.1 636.3 364.8 635.9 365.5 635.0 C366.1 634.1 366.5 633.4 367.0 631.9 C367.5 630.4 367.9 627.5 368.6 625.7 C369.2 623.9 370.0 622.9 370.9 621.1 C371.8 619.3 373.0 616.7 374.0 614.9 C375.0 613.1 376.1 611.6 377.1 610.2 C378.1 608.8 379.3 607.5 380.2 606.3 C381.1 605.2 382.0 603.7 382.5 603.2 C383.0 602.8 382.4 603.9 383.1 603.5 C383.8 603.2 385.7 601.7 387.0 601.2 C388.3 600.7 389.5 601.1 390.8 600.4 C392.1 599.8 393.4 598.3 394.7 597.3 C396.0 596.3 397.4 594.9 398.6 594.2 C399.8 593.5 400.5 593.2 401.7 593.0 C402.9 592.7 404.1 592.6 405.6 592.7 C407.0 592.7 408.7 592.9 410.2 593.1 C411.8 593.4 413.3 593.7 414.9 594.2 C416.4 594.7 417.9 595.6 419.5 596.1 C421.1 596.6 422.6 596.8 424.1 597.3 C425.7 597.8 427.3 598.2 428.8 598.9 C430.3 599.5 431.9 600.5 433.4 601.2 C435.0 601.8 436.5 602.4 438.1 602.7 C439.6 603.0 441.2 603.1 442.7 603.0 C444.3 603.0 445.8 602.6 447.4 602.3 C448.9 601.9 450.5 601.5 452.0 600.9 C453.6 600.3 455.1 599.4 456.7 598.5 C458.2 597.7 459.8 596.7 461.3 595.8 C462.9 594.8 464.5 593.8 466.0 592.8 C467.4 591.8 468.4 590.9 469.9 589.7 C471.4 588.5 473.2 586.8 474.8 585.6 C476.4 584.4 478.1 583.3 479.7 582.3 C481.4 581.4 483.0 580.5 484.6 579.9 C486.3 579.2 487.9 578.7 489.5 578.2 C491.2 577.8 492.8 577.5 494.4 577.1 C496.1 576.7 497.7 576.2 499.3 575.8 C501.0 575.3 502.6 575.0 504.2 574.5 C505.9 574.0 507.5 573.4 509.1 572.8 C510.8 572.3 512.4 571.7 514.0 571.2 C515.7 570.7 517.3 570.2 519.0 569.7 C520.6 569.3 522.2 568.8 523.9 568.4 C525.5 568.0 527.1 567.7 528.8 567.3 C530.4 566.9 532.0 566.4 533.7 566.0 C535.3 565.6 536.9 565.2 538.6 564.8 C540.2 564.5 541.9 564.3 543.5 564.0 C545.1 563.7 546.8 563.5 548.4 563.2 C550.0 562.9 552.2 562.5 553.3 562.4 C554.4 562.2 554.8 562.2 555.1 562.2" fill="none" stroke="#ff0000" stroke-width="1.9" stroke-linejoin="round" stroke-linecap="butt" clip-path="url(#cb)"/>
<line x1="186.60" y1="256.00" x2="186.60" y2="364.00" stroke="#808080" stroke-width="1.6" stroke-dasharray="2.3 7.2"/>
<line x1="250.85" y1="256.00" x2="250.85" y2="364.00" stroke="#808080" stroke-width="1.6" stroke-dasharray="2.3 7.2"/>
<text x="207.80" y="48.90" font-size="26.3" text-anchor="start" >Wavenumbers (cm<tspan font-size="16.3" dy="-17" dx="2.5">-1</tspan><tspan dy="17" dx="2.5">)</tspan></text>
<text transform="translate(248.01,76.10) scale(0.955,1)" font-size="22.4" text-anchor="middle" >100</text>
<text transform="translate(402.36,76.10) scale(0.955,1)" font-size="22.4" text-anchor="middle" >1000</text>
<text transform="translate(232.30,700.00) scale(0.955,1)" font-size="22.4" text-anchor="middle" >0.01</text>
<text transform="translate(387.05,700.00) scale(0.955,1)" font-size="22.4" text-anchor="middle" >0.1</text>
<text transform="translate(541.60,700.00) scale(0.955,1)" font-size="22.4" text-anchor="middle" >1</text>
<text x="340.60" y="730.60" font-size="26.2" text-anchor="middle" >Photon energy (eV)</text>
<text transform="translate(121.20,135.45) scale(0.955,1)" font-size="22.4" text-anchor="end" >10</text>
<text transform="translate(119.00,287.90) scale(0.955,1)" font-size="21.5" text-anchor="end" >1</text>
<text transform="translate(121.20,441.35) scale(0.955,1)" font-size="22.4" text-anchor="end" >0.1</text>
<text transform="translate(114.50,504.70) scale(0.955,1)" font-size="22.4" text-anchor="end" >200</text>
<text transform="translate(114.50,568.10) scale(0.955,1)" font-size="22.4" text-anchor="end" >0</text>
<text transform="translate(114.50,631.50) scale(0.955,1)" font-size="22.4" text-anchor="end" >-200</text>
<g transform="translate(49.2,377.3) rotate(-90)">
<text x="0.00" y="0.00" font-size="26" text-anchor="start" >&#963;(10<tspan font-size="18" dy="-16.5" dx="0.5">4</tspan><tspan dy="16.5" dx="0.5">&#937;</tspan><tspan font-size="18" dy="-16.5" dx="-2.7">-1</tspan><tspan dy="16.5" dx="-1.5">cm</tspan><tspan font-size="18" dy="-16.5" dx="-0.2">-1</tspan><tspan dy="16.5" dx="1.6">)</tspan></text>
</g>
<g transform="translate(45.4,575.2) rotate(-90)">
<text x="0.00" y="0.00" font-size="26" text-anchor="start" >&#949;<tspan font-size="19" dy="10.4" dx="0.5">1</tspan></text>
</g>
<text x="157.30" y="136.70" font-size="30.8" text-anchor="start" >CeCu<tspan font-size="22" dy="9.3" dx="1">2</tspan><tspan dy="-9.3" dx="0.5">Si</tspan><tspan font-size="22" dy="9.3" dx="1">2</tspan></text>
<text x="145.30" y="421.10" font-size="25" text-anchor="start" >(a)</text>
<text x="145.30" y="649.40" font-size="25" text-anchor="start" >(b)</text>
<text x="67.20" y="199.40" font-size="20.5" text-anchor="start" font-style="italic">&#963;</text>
<text transform="translate(79.10,208.40) scale(0.9,1)" font-size="18.2" text-anchor="start" font-style="italic">DC</text>
<rect x="96.05" y="271.35" width="10.3" height="10.3" fill="#00ffff"/>
<rect x="96.05" y="275.85" width="10.3" height="10.3" fill="#808000"/>
<rect x="96.05" y="272.05" width="10.3" height="10.3" fill="#ff8000"/>
<rect x="96.05" y="258.60" width="10.3" height="10.3" fill="#000000"/>
<rect x="96.05" y="253.45" width="10.3" height="10.3" fill="#ff0000"/>
<rect x="96.05" y="233.35" width="10.3" height="10.3" fill="#00ff00"/>
<text x="92.60" y="240.80" font-size="17.0" text-anchor="end" >4K</text>
<text x="93.00" y="264.40" font-size="17.4" text-anchor="end" >300K</text>
<text x="94.00" y="289.40" font-size="17.4" text-anchor="end" >80K</text>
<text x="153.00" y="372.40" font-size="17.4" text-anchor="start" >4K</text>
<text x="295.60" y="277.10" font-size="17" text-anchor="start" >300 K</text>
<text x="198.30" y="618.00" font-size="17.4" text-anchor="start" >4K</text>
<text x="397.00" y="623.60" font-size="17" text-anchor="start" >300 K</text>
<text x="181.20" y="247.90" font-size="13.6" text-anchor="start" >&#969;</text>
<text x="190.80" y="256.00" font-size="14.2" text-anchor="start" >1</text>
<text x="246.20" y="247.90" font-size="13.6" text-anchor="start" >&#969;</text>
<text x="256.20" y="256.00" font-size="14.2" text-anchor="start" >2</text>
<line x1="434.20" y1="252.30" x2="434.20" y2="278.70" stroke="#000" stroke-width="1.3" />
<path d="M429.6 268.0 L434.2 279.2 L438.8 268.0" fill="none" stroke="#000" stroke-width="1.3" stroke-linejoin="miter"/>
<line x1="489.90" y1="285.30" x2="489.90" y2="312.00" stroke="#000" stroke-width="1.3" />
<path d="M485.3 301.3 L489.9 312.5 L494.5 301.3" fill="none" stroke="#000" stroke-width="1.3" stroke-linejoin="miter"/>
<line x1="320.00" y1="361.60" x2="361.50" y2="361.60" stroke="#00ff00" stroke-width="1.8" />
<text x="366.80" y="367.40" font-size="18.5" text-anchor="start" >4K</text>
<line x1="320.00" y1="384.20" x2="361.50" y2="384.20" stroke="#000000" stroke-width="1.8" />
<text x="366.80" y="390.00" font-size="18.5" text-anchor="start" >8K</text>
<line x1="320.00" y1="406.80" x2="361.50" y2="406.80" stroke="#00ffff" stroke-width="1.8" />
<text x="366.80" y="412.60" font-size="18.5" text-anchor="start" >15K</text>
<line x1="320.00" y1="429.30" x2="361.50" y2="429.30" stroke="#0000ff" stroke-width="1.8" />
<text x="366.80" y="435.10" font-size="18.5" text-anchor="start" >30K</text>
<line x1="413.40" y1="361.60" x2="455.80" y2="361.60" stroke="#008000" stroke-width="1.8" />
<text x="459.80" y="367.40" font-size="18.5" text-anchor="start" >50K</text>
<line x1="413.40" y1="384.20" x2="455.80" y2="384.20" stroke="#808000" stroke-width="1.8" />
<text x="459.80" y="390.00" font-size="18.5" text-anchor="start" >80K</text>
<line x1="413.40" y1="406.80" x2="455.80" y2="406.80" stroke="#ff8000" stroke-width="1.8" />
<text x="459.80" y="412.60" font-size="18.5" text-anchor="start" >150K</text>
<line x1="413.40" y1="429.30" x2="455.80" y2="429.30" stroke="#ff0000" stroke-width="1.8" />
<text x="459.80" y="435.10" font-size="18.5" text-anchor="start" >300K</text>
<rect x="386.4" y="92.4" width="161.80000000000007" height="122.0" fill="#fff"/>
<line x1="386.40" y1="92.40" x2="386.40" y2="215.30" stroke="#000" stroke-width="1.8" />
<line x1="382.40" y1="214.40" x2="548.20" y2="214.40" stroke="#000" stroke-width="1.8" />
<line x1="399.11" y1="214.40" x2="399.11" y2="209.90" stroke="#000" stroke-width="1.5" />
<line x1="408.09" y1="214.40" x2="408.09" y2="209.90" stroke="#000" stroke-width="1.5" />
<line x1="415.06" y1="214.40" x2="415.06" y2="209.90" stroke="#000" stroke-width="1.5" />
<line x1="420.75" y1="214.40" x2="420.75" y2="209.90" stroke="#000" stroke-width="1.5" />
<line x1="425.56" y1="214.40" x2="425.56" y2="209.90" stroke="#000" stroke-width="1.5" />
<line x1="429.73" y1="214.40" x2="429.73" y2="209.90" stroke="#000" stroke-width="1.5" />
<line x1="433.41" y1="214.40" x2="433.41" y2="209.90" stroke="#000" stroke-width="1.5" />
<line x1="436.70" y1="214.40" x2="436.70" y2="204.90" stroke="#000" stroke-width="1.5" />
<line x1="458.34" y1="214.40" x2="458.34" y2="209.90" stroke="#000" stroke-width="1.5" />
<line x1="471.01" y1="214.40" x2="471.01" y2="209.90" stroke="#000" stroke-width="1.5" />
<line x1="479.99" y1="214.40" x2="479.99" y2="209.90" stroke="#000" stroke-width="1.5" />
<line x1="486.96" y1="214.40" x2="486.96" y2="209.90" stroke="#000" stroke-width="1.5" />
<line x1="492.65" y1="214.40" x2="492.65" y2="209.90" stroke="#000" stroke-width="1.5" />
<line x1="497.46" y1="214.40" x2="497.46" y2="209.90" stroke="#000" stroke-width="1.5" />
<line x1="501.63" y1="214.40" x2="501.63" y2="209.90" stroke="#000" stroke-width="1.5" />
<line x1="505.31" y1="214.40" x2="505.31" y2="209.90" stroke="#000" stroke-width="1.5" />
<line x1="508.60" y1="214.40" x2="508.60" y2="204.90" stroke="#000" stroke-width="1.5" />
<line x1="530.24" y1="214.40" x2="530.24" y2="209.90" stroke="#000" stroke-width="1.5" />
<line x1="542.91" y1="214.40" x2="542.91" y2="209.90" stroke="#000" stroke-width="1.5" />
<line x1="386.40" y1="92.78" x2="381.60" y2="92.78" stroke="#000" stroke-width="1.5" />
<line x1="386.40" y1="113.12" x2="376.90" y2="113.12" stroke="#000" stroke-width="1.5" />
<line x1="386.40" y1="133.46" x2="381.60" y2="133.46" stroke="#000" stroke-width="1.5" />
<line x1="386.40" y1="153.80" x2="376.90" y2="153.80" stroke="#000" stroke-width="1.5" />
<line x1="386.40" y1="174.14" x2="381.60" y2="174.14" stroke="#000" stroke-width="1.5" />
<line x1="386.40" y1="194.48" x2="376.90" y2="194.48" stroke="#000" stroke-width="1.5" />
<text transform="translate(372.30,119.52) scale(0.94,1)" font-size="18.4" text-anchor="end" >1.3</text>
<text transform="translate(372.30,160.20) scale(0.94,1)" font-size="18.4" text-anchor="end" >1.0</text>
<text transform="translate(372.30,200.88) scale(0.94,1)" font-size="18.4" text-anchor="end" >0.7</text>
<text transform="translate(437.10,233.40) scale(0.95,1)" font-size="16.6" text-anchor="middle" >10</text>
<text transform="translate(509.20,233.40) scale(0.95,1)" font-size="16.6" text-anchor="middle" >100</text>
<text transform="translate(451.00,245.80) scale(0.93,1)" font-size="22.6" text-anchor="start" ><tspan font-style="italic">T</tspan> (K)</text>
<g transform="translate(333.5,202.8) rotate(-90)">
<text x="0.00" y="0.00" font-size="21" text-anchor="start" >&#963;(&#969;<tspan font-size="15" dy="6.5">1</tspan><tspan dy="-6.5">)/&#963;(&#969;</tspan><tspan font-size="15" dy="6.5">2</tspan><tspan dy="-6.5">)</tspan></text>
</g>
<line x1="408.30" y1="184.90" x2="414.00" y2="182.90" stroke="#000" stroke-width="1.6" />
<line x1="419.30" y1="181.30" x2="429.50" y2="176.70" stroke="#000" stroke-width="1.6" />
<line x1="429.50" y1="176.70" x2="436.90" y2="173.10" stroke="#000" stroke-width="1.6" />
<line x1="442.00" y1="169.50" x2="449.20" y2="166.20" stroke="#000" stroke-width="1.6" />
<line x1="452.30" y1="158.20" x2="457.80" y2="150.60" stroke="#000" stroke-width="1.6" />
<line x1="460.60" y1="146.90" x2="466.10" y2="139.60" stroke="#000" stroke-width="1.6" />
<line x1="469.60" y1="135.40" x2="472.50" y2="132.50" stroke="#000" stroke-width="1.6" />
<line x1="474.00" y1="129.30" x2="481.70" y2="130.90" stroke="#000" stroke-width="1.6" />
<line x1="492.10" y1="129.60" x2="497.50" y2="128.20" stroke="#000" stroke-width="1.6" />
<line x1="504.00" y1="129.50" x2="509.90" y2="133.30" stroke="#000" stroke-width="1.6" />
<line x1="517.50" y1="140.30" x2="521.00" y2="142.50" stroke="#000" stroke-width="1.6" />
<line x1="524.00" y1="142.50" x2="532.40" y2="145.10" stroke="#000" stroke-width="1.6" />
<line x1="540.00" y1="146.00" x2="543.00" y2="146.00" stroke="#000" stroke-width="1.6" />
<rect x="402.99" y="179.89" width="10.2" height="10.2" fill="#ff0000"/>
<line x1="429.73" y1="163.29" x2="429.73" y2="190.41" stroke="#ff0000" stroke-width="1.1" />
<line x1="424.93" y1="163.29" x2="434.53" y2="163.29" stroke="#ff0000" stroke-width="1.0" />
<line x1="424.93" y1="190.41" x2="434.53" y2="190.41" stroke="#ff0000" stroke-width="1.0" />
<rect x="424.63" y="171.75" width="10.2" height="10.2" fill="#ff0000"/>
<rect x="444.26" y="161.18" width="10.2" height="10.2" fill="#ff0000"/>
<rect x="465.91" y="122.94" width="10.2" height="10.2" fill="#ff0000"/>
<rect x="481.86" y="125.65" width="10.2" height="10.2" fill="#ff0000"/>
<line x1="501.63" y1="98.61" x2="501.63" y2="152.31" stroke="#ff0000" stroke-width="1.1" />
<line x1="496.83" y1="98.61" x2="506.43" y2="98.61" stroke="#ff0000" stroke-width="1.0" />
<line x1="496.83" y1="152.31" x2="506.43" y2="152.31" stroke="#ff0000" stroke-width="1.0" />
<rect x="496.53" y="120.36" width="10.2" height="10.2" fill="#ff0000"/>
<rect x="516.16" y="137.17" width="10.2" height="10.2" fill="#ff0000"/>
<rect x="537.81" y="141.24" width="10.2" height="10.2" fill="#ff0000"/>
</svg>
</body></html>
